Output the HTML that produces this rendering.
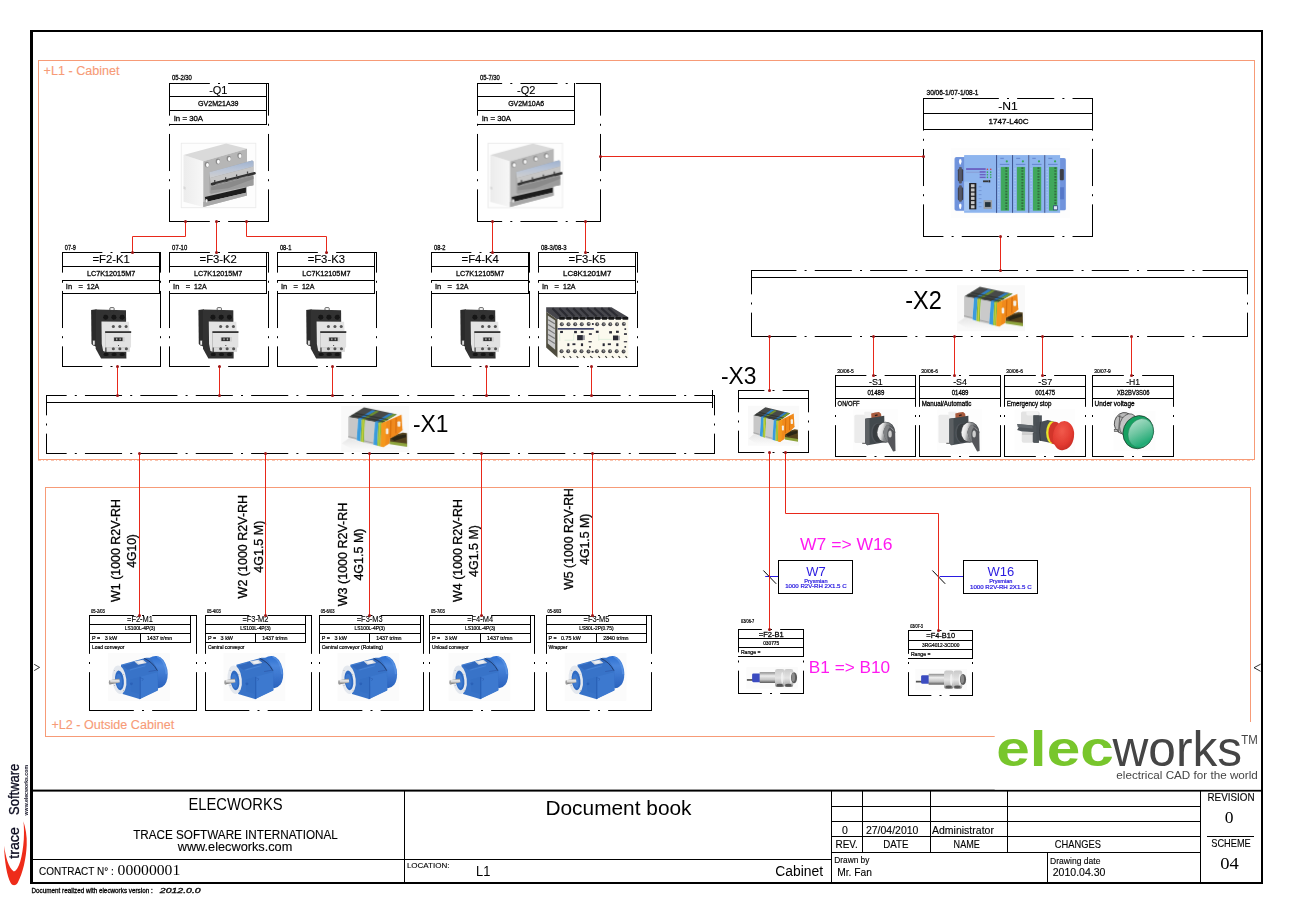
<!DOCTYPE html>
<html><head><meta charset="utf-8"><title>elecworks - Document book</title>
<style>
html,body{margin:0;padding:0;background:#fff;}
body{width:1293px;height:913px;overflow:hidden;font-family:"Liberation Sans",sans-serif;}
svg{display:block;}
text{white-space:pre;}
</style></head><body>
<svg width="1293" height="913" viewBox="0 0 1293 913">
<rect x="0" y="0" width="1293" height="913" fill="#fff"/>
<rect x="38.5" y="60.5" width="1216" height="399" fill="none" stroke="#f79b77" stroke-width="1"/>
<line x1="38" y1="460.6" x2="1255" y2="460.6" stroke="#f79b77" stroke-width="0.8" stroke-dasharray="3,2,1,2,2,3" opacity="0.8"/>
<rect x="45.5" y="487.5" width="1205" height="249" fill="none" stroke="#f79b77" stroke-width="1"/>
<text x="43.6" y="74.7" font-family="Liberation Sans, sans-serif" font-size="12" fill="#f79b77" textLength="76.0" lengthAdjust="spacingAndGlyphs" stroke="#f79b77" stroke-width="0.12" >+L1 - Cabinet</text>
<text x="51.5" y="729.0" font-family="Liberation Sans, sans-serif" font-size="12" fill="#f79b77" textLength="122.7" lengthAdjust="spacingAndGlyphs" stroke="#f79b77" stroke-width="0.12" >+L2 - Outside Cabinet</text>
<defs>
<linearGradient id="gBlueBar" x1="0" y1="0" x2="0" y2="1"><stop offset="0" stop-color="#9fb2cf"/><stop offset="0.5" stop-color="#b9c4d6"/><stop offset="1" stop-color="#cfcfcf"/></linearGradient>
<linearGradient id="gLeftFace" x1="0" y1="0" x2="1" y2="0"><stop offset="0" stop-color="#ececec"/><stop offset="1" stop-color="#f7f7f7"/></linearGradient>
<linearGradient id="gShadow" x1="0" y1="0" x2="0" y2="1"><stop offset="0" stop-color="#e6e6e6"/><stop offset="1" stop-color="#fbfbfb"/></linearGradient>
<linearGradient id="gMetal" x1="0" y1="0" x2="0" y2="1"><stop offset="0" stop-color="#8e8e8e"/><stop offset="0.35" stop-color="#ededed"/><stop offset="0.7" stop-color="#c4c4c4"/><stop offset="1" stop-color="#555"/></linearGradient>
<linearGradient id="gNut" x1="0" y1="0" x2="0" y2="1"><stop offset="0" stop-color="#c9c9c9"/><stop offset="0.5" stop-color="#e4e4e4"/><stop offset="0.85" stop-color="#b5b5b5"/><stop offset="1" stop-color="#6a6a6a"/></linearGradient>
<linearGradient id="gShaft" x1="0" y1="0" x2="0" y2="1"><stop offset="0" stop-color="#777"/><stop offset="0.4" stop-color="#f2f2f2"/><stop offset="1" stop-color="#666"/></linearGradient>
<linearGradient id="gKnob" x1="0" y1="0" x2="1" y2="0"><stop offset="0" stop-color="#6d6d6d"/><stop offset="0.3" stop-color="#fafafa"/><stop offset="0.6" stop-color="#bdbdbd"/><stop offset="1" stop-color="#777"/></linearGradient>
<radialGradient id="gRed" cx="0.4" cy="0.35" r="0.8"><stop offset="0" stop-color="#f15a4c"/><stop offset="0.6" stop-color="#e23a30"/><stop offset="1" stop-color="#b9241f"/></radialGradient>
<linearGradient id="gGreenFace" x1="0" y1="0" x2="1" y2="1"><stop offset="0" stop-color="#bfe6d4"/><stop offset="0.45" stop-color="#6cc5a0"/><stop offset="0.8" stop-color="#1faa74"/><stop offset="1" stop-color="#8fd6ba"/></linearGradient>
<linearGradient id="gFan" x1="0" y1="0" x2="0" y2="1"><stop offset="0" stop-color="#2e6fd0"/><stop offset="0.3" stop-color="#4a86dc"/><stop offset="1" stop-color="#2a62bd"/></linearGradient>
<filter id="blur1" x="-10%" y="-10%" width="120%" height="120%"><feGaussianBlur stdDeviation="0.35"/></filter>
<filter id="blur2" x="-10%" y="-10%" width="120%" height="120%"><feGaussianBlur stdDeviation="0.5"/></filter>

<!-- ============ breaker (zoom coords 9.61x, origin 170,130) -->
<g id="brk">
 <rect x="108" y="127" width="717" height="620" fill="#fdfdfd" stroke="#eaeaea" stroke-width="8"/>
 <polygon points="130,240 320,300 320,740 130,690" fill="url(#gLeftFace)"/>
 <polygon points="130,240 540,130 740,180 320,300" fill="#dadada"/>
 <polygon points="320,300 740,180 740,630 320,740" fill="#b6b6b6"/>
 <ellipse cx="355" cy="332" rx="21" ry="27" fill="#8a8a8a"/><ellipse cx="360" cy="336" rx="14" ry="19" fill="#fafafa"/>
 <ellipse cx="460" cy="302" rx="21" ry="27" fill="#8a8a8a"/><ellipse cx="465" cy="306" rx="14" ry="19" fill="#fafafa"/>
 <ellipse cx="565" cy="274" rx="21" ry="27" fill="#8a8a8a"/><ellipse cx="570" cy="278" rx="14" ry="19" fill="#fafafa"/>
 <ellipse cx="668" cy="246" rx="21" ry="27" fill="#8a8a8a"/><ellipse cx="673" cy="250" rx="14" ry="19" fill="#fafafa"/>
 <polygon points="378,405 790,292 802,300 802,530 392,612 380,600" fill="#a2a2a2"/>
 <polygon points="378,405 790,292 802,305 802,350 385,462" fill="url(#gBlueBar)"/>
 <polygon points="385,462 802,350 802,410 390,515" fill="#c6c6c6"/>
 <polygon points="390,555 802,450 802,530 392,612" fill="#9c9c9c"/>
 <path d="M405,520 L812,416" stroke="#333" stroke-width="26" stroke-linecap="round"/><polygon points="395,545 802,440 802,470 560,560 395,580" fill="#8a8a8a"/>
 <path d="M440,523 L530,500 M560,492 L640,472 M665,466 L745,446" stroke="#8d8d8d" stroke-width="9" stroke-linecap="round"/>
 <path d="M430,480 L430,500 M535,455 L535,475 M640,428 L640,448 M745,400 L745,420" stroke="#444" stroke-width="12"/>
 <polygon points="335,645 730,552 730,602 345,692" fill="#1e1e1e"/>
 <polygon points="320,690 345,692 730,602 740,600 740,630 320,740" fill="#a8a8a8"/>
 <ellipse cx="352" cy="680" rx="10" ry="16" fill="#eee"/>
 <polygon points="130,540 150,548 150,575 130,568" fill="#d8d8d8"/>
</g>

<!-- ============ contactor (zoom coords 13.05x, origin 80,295) -->
<g id="ctr">
 <polygon points="145,195 215,185 215,680 165,650 150,640" fill="#2b2b2b"/>
 <polygon points="205,190 600,200 605,830 275,830 205,700" fill="#303030"/>
 <rect x="390" y="165" width="55" height="40" rx="10" fill="none" stroke="#333" stroke-width="10"/>
 <circle cx="335" cy="290" r="32" fill="#141414"/><circle cx="442" cy="290" r="32" fill="#141414"/><circle cx="550" cy="290" r="32" fill="#141414"/>
 <ellipse cx="340" cy="775" rx="34" ry="22" fill="#161616"/><ellipse cx="445" cy="775" rx="34" ry="22" fill="#161616"/><ellipse cx="550" cy="775" rx="34" ry="22" fill="#161616"/>
 <polygon points="280,345 640,350 645,475 330,475 330,742 302,732 284,640" fill="#e4e4e4"/>
 <rect x="328" y="470" width="338" height="215" fill="#e2e2e2"/>
 <rect x="345" y="680" width="305" height="62" fill="#d8d8d8"/>
 <rect x="328" y="473" width="340" height="22" fill="#2a2a2a"/>
 <circle cx="435" cy="410" r="20" fill="#555"/><circle cx="520" cy="410" r="20" fill="#555"/><circle cx="602" cy="410" r="20" fill="#555"/>
 <circle cx="435" cy="702" r="20" fill="#555"/><circle cx="520" cy="702" r="20" fill="#555"/><circle cx="605" cy="702" r="20" fill="#555"/>
 <rect x="432" y="548" width="150" height="60" fill="#d0d0d0"/>
 <rect x="445" y="555" width="110" height="46" fill="#2e2e2e"/>
 <rect x="470" y="565" width="18" height="25" fill="#aaa"/><rect x="515" y="565" width="18" height="25" fill="#aaa"/>
 <circle cx="503" cy="658" r="7" fill="#222"/>
 <rect x="165" y="590" width="32" height="65" rx="8" fill="#fff" stroke="#2b2b2b" stroke-width="10"/>
</g>

<!-- ============ mini contactor K5 (zoom coords 12.17x, origin 540,295) -->
<g id="k5">
 <polygon points="75,150 870,150 1075,270 1075,300 215,300 75,205" fill="#47474d"/>
 <polygon points="75,205 215,300 215,765 75,640" fill="#4d4b3c"/>
 <polygon points="95,250 185,310 185,665 95,590" fill="#c9c9c9"/>
 <path d="M100,300 L180,350 M100,360 L180,410 M100,420 L180,470 M100,480 L180,530 M100,540 L180,590" stroke="#777" stroke-width="14"/>
 <rect x="215" y="292" width="860" height="475" fill="#fbf9ee"/>
 <path d="M235,285 L300,285 M320,285 L380,285 M400,285 L465,285 M485,285 L550,285 M570,285 L650,285 M670,285 L735,285 M755,285 L815,285 M835,285 L900,285 M920,285 L985,285 M1005,285 L1070,285" stroke="#141418" stroke-width="34"/>
 <path d="M150,160 L250,262 M235,160 L335,262 M320,160 L420,262 M405,160 L505,262 M490,160 L590,262 M575,160 L690,262 M660,160 L775,262 M745,160 L860,262 M830,160 L945,262" stroke="#2b2b30" stroke-width="26"/>
 <g fill="#4a4a4e">
  <circle cx="265" cy="357" r="24"/><circle cx="347" cy="357" r="24"/><circle cx="428" cy="357" r="24"/><circle cx="508" cy="357" r="24"/><circle cx="592" cy="352" r="24"/>
  <circle cx="695" cy="357" r="24"/><circle cx="775" cy="357" r="24"/><circle cx="855" cy="357" r="24"/><circle cx="937" cy="357" r="24"/><circle cx="1020" cy="352" r="24"/>
  <circle cx="262" cy="685" r="24"/><circle cx="343" cy="685" r="24"/><circle cx="425" cy="685" r="24"/><circle cx="505" cy="685" r="24"/><circle cx="590" cy="688" r="24"/>
  <circle cx="692" cy="685" r="24"/><circle cx="772" cy="685" r="24"/><circle cx="852" cy="685" r="24"/><circle cx="933" cy="685" r="24"/><circle cx="1017" cy="688" r="24"/>
 </g>
 <g fill="#bdbdbd">
  <circle cx="270" cy="352" r="9"/><circle cx="352" cy="352" r="9"/><circle cx="433" cy="352" r="9"/><circle cx="513" cy="352" r="9"/><circle cx="597" cy="347" r="9"/>
  <circle cx="700" cy="352" r="9"/><circle cx="780" cy="352" r="9"/><circle cx="860" cy="352" r="9"/><circle cx="942" cy="352" r="9"/><circle cx="1025" cy="347" r="9"/>
  <circle cx="267" cy="680" r="9"/><circle cx="348" cy="680" r="9"/><circle cx="430" cy="680" r="9"/><circle cx="510" cy="680" r="9"/><circle cx="595" cy="683" r="9"/>
  <circle cx="697" cy="680" r="9"/><circle cx="777" cy="680" r="9"/><circle cx="857" cy="680" r="9"/><circle cx="938" cy="680" r="9"/><circle cx="1022" cy="683" r="9"/>
 </g>
 <rect x="215" y="402" width="440" height="20" fill="#3a3f66"/>
 <g fill="#2a2a36">
  <rect x="245" y="437" width="34" height="26"/><rect x="415" y="437" width="34" height="28"/><rect x="495" y="437" width="34" height="26"/><rect x="680" y="435" width="34" height="26"/><rect x="842" y="440" width="34" height="28"/><rect x="925" y="435" width="34" height="26"/>
  <rect x="595" y="465" width="36" height="20"/><rect x="1022" y="465" width="36" height="20"/><rect x="632" y="342" width="22" height="22"/><rect x="1028" y="405" width="20" height="20"/>
  <rect x="452" y="488" width="70" height="62"/><rect x="888" y="493" width="62" height="58"/>
  <rect x="333" y="588" width="24" height="34"/><rect x="395" y="588" width="36" height="22"/><rect x="498" y="588" width="26" height="34"/><rect x="762" y="588" width="26" height="34"/><rect x="825" y="588" width="38" height="22"/><rect x="928" y="588" width="26" height="34"/>
  <rect x="590" y="562" width="40" height="14"/><rect x="1020" y="562" width="40" height="14"/><rect x="598" y="622" width="20" height="20"/><rect x="1028" y="622" width="20" height="20"/><rect x="628" y="680" width="24" height="22"/>
 </g>
 <rect x="522" y="490" width="24" height="58" fill="#9a9aa0"/><rect x="950" y="495" width="20" height="55" fill="#9a9aa0"/>
 <path d="M240,470 L240,560 M410,470 L410,550 L300,550 M715,540 L880,540 M715,480 L715,560" stroke="#bfe3c9" stroke-width="5" fill="none"/>
 <path d="M280,745 L300,765 M360,745 L380,765 M445,745 L465,765 M525,745 L545,765 M610,745 L640,765 M710,745 L730,765 M795,745 L815,765 M875,745 L895,765 M955,745 L975,765 M1040,745 L1060,765" stroke="#333" stroke-width="14"/>
</g>

<!-- ============ terminal block (zoom coords 16.16x, origin 335,400) -->
<g id="trm">
 <rect x="100" y="95" width="1090" height="735" fill="#f9f9f9"/>
 <polygon points="110,700 220,620 760,760 1150,770 1150,810 300,810" fill="url(#gShadow)"/>
 <polygon points="885,615 1000,555 1095,528 1162,535 1166,740 885,700" fill="#54431f"/>
 <polygon points="905,625 1010,575 1150,555 1150,600 960,660" fill="#2b2616"/>
 <polygon points="885,668 1166,705 1166,758 885,715" fill="#8ea43c"/>
 <polygon points="215,275 470,120 1000,232 752,378" fill="#474a48"/>
 <polygon points="375,300 600,165 660,175 430,312" fill="#2f7fc6"/>
 <polygon points="430,312 660,175 715,185 485,322" fill="#6f8f2f"/>
 <polygon points="645,355 880,215 940,225 700,367" fill="#2f7fc6"/>
 <polygon points="700,367 940,225 1000,232 752,378" fill="#6f9a35"/>
 <path d="M330,215 L860,320 M270,248 L800,350" stroke="#2a2c2b" stroke-width="22" opacity="0.7"/>
 <polygon points="215,275 375,300 350,645 215,612" fill="#c7c7c7"/>
 <polygon points="375,300 432,310 412,668 350,650" fill="#3a9bdc"/>
 <polygon points="432,310 487,322 470,684 412,668" fill="#86b73c"/>
 <polygon points="448,312 470,318 452,682 430,674" fill="#d9d436" opacity="0.8"/>
 <polygon points="487,325 647,355 622,722 470,688" fill="#cacaca"/>
 <polygon points="647,355 702,367 682,738 620,722" fill="#3a9bdc"/>
 <polygon points="702,367 752,378 737,748 682,738" fill="#86b73c"/>
 <polygon points="716,369 738,374 720,745 700,741" fill="#d9d436" opacity="0.7"/>
 <polygon points="752,378 1075,235 1090,470 1098,482 1000,562 892,622 878,705 782,762 737,748" fill="#f08a1c"/>
 <polygon points="752,378 830,345 815,735 782,762 737,748" fill="#f5981f"/>
 <path d="M905,330 L895,600 M990,290 L985,540" stroke="#d9700f" stroke-width="22"/>
 <rect x="822" y="460" width="42" height="90" rx="14" fill="#f4efe6"/>
 <rect x="1010" y="345" width="48" height="85" rx="14" fill="#f4efe6"/>
 <path d="M215,590 L350,622 M470,660 L620,695" stroke="#9a9a9a" stroke-width="14"/>
</g>
</defs>
<defs>
<!-- ============ selector switch (zoom 17.23x, origin 850,405) -->
<linearGradient id="gKnob2" x1="0" y1="0" x2="1" y2="0.25"><stop offset="0" stop-color="#55595c"/><stop offset="0.18" stop-color="#f4f4f4"/><stop offset="0.36" stop-color="#e0e0e0"/><stop offset="0.55" stop-color="#8d8f91"/><stop offset="1" stop-color="#4c4f52"/></linearGradient>
<g id="sel">
 <rect x="55" y="70" width="770" height="770" fill="#fdfdfd"/>
 <rect x="245" y="118" width="150" height="120" rx="14" fill="#f0f0f0"/>
 <rect x="75" y="168" width="185" height="485" rx="26" fill="#ebebeb"/>
 <polygon points="365,148 430,128 500,120 535,150 542,205 370,242" fill="#a85a3c"/>
 <rect x="428" y="166" width="48" height="22" fill="#2e211c" transform="rotate(-18 452 177)"/>
 <polygon points="262,236 590,186 598,640 300,692 262,662" fill="#43484d"/>
 <polygon points="262,236 335,225 338,684 300,692 262,662" fill="#5b6064"/>
 <ellipse cx="462" cy="482" rx="98" ry="168" fill="#50555a"/>
 <ellipse cx="478" cy="482" rx="88" ry="160" fill="#393d41"/>
 <ellipse cx="612" cy="470" rx="166" ry="182" fill="#3d4043"/>
 <ellipse cx="618" cy="468" rx="150" ry="170" fill="url(#gKnob2)"/>
 <path d="M572,470 Q600,350 660,345 Q760,370 778,450 L784,792 L742,802 L655,640 Q590,570 572,470 Z" fill="#54575a"/>
 <path d="M572,470 Q600,350 660,345 L690,380 Q640,420 640,520 L655,640 Q590,570 572,470 Z" fill="#808284"/>
 <ellipse cx="690" cy="500" rx="30" ry="62" fill="#cfcfcf"/>
 <path d="M700,385 L752,440" stroke="#9a9c9e" stroke-width="16"/>
 <rect x="210" y="652" width="50" height="14" fill="#333"/>
</g>

<!-- ============ emergency stop (zoom 14.05x, origin 1005,395) -->
<g id="est">
 <rect x="135" y="200" width="850" height="620" fill="#fdfdfd"/>
 <rect x="225" y="232" width="262" height="200" rx="25" fill="#e3e3e3"/><rect x="300" y="228" width="170" height="60" rx="20" fill="#f2f2f2"/>
 <rect x="235" y="520" width="200" height="152" rx="25" fill="#e4e4e4"/><rect x="240" y="522" width="160" height="40" fill="#cfcfcf"/>
 <rect x="400" y="286" width="118" height="130" fill="#4f555a"/><rect x="398" y="286" width="78" height="386" fill="#4b5156"/><polygon points="170,408 450,432 450,525 240,512 170,492 195,450" fill="#4f555a"/><polygon points="390,530 480,555 472,672 390,660" fill="#4f555a"/><polygon points="440,392 600,352 705,378 705,692 600,665 440,632" fill="#4a5055"/>
 <polygon points="170,408 380,430 390,470 180,452" fill="#62686d"/>
 <path d="M500,378 Q470,510 500,645" stroke="#33383c" stroke-width="12" fill="none"/>
 <ellipse cx="660" cy="528" rx="82" ry="158" fill="#e9e32a"/>
 <ellipse cx="705" cy="535" rx="95" ry="160" fill="#d2352b"/>
 <ellipse cx="822" cy="572" rx="148" ry="206" fill="url(#gRed)" transform="rotate(8 822 572)"/>
</g>

<!-- ============ pilot lamp (zoom 14.05x, origin 1090,395) -->
<g id="lmp">
 <rect x="330" y="225" width="590" height="560" fill="#fdfdfd"/>
 <ellipse cx="475" cy="395" rx="132" ry="150" fill="#b9b9b9" stroke="#2a2a2a" stroke-width="10" transform="rotate(15 475 395)"/>
 <path d="M395,300 L520,330 M420,280 L400,520" stroke="#3a3a3a" stroke-width="9" fill="none"/>
 <ellipse cx="540" cy="420" rx="120" ry="160" fill="#c4c4c4" stroke="#2a2a2a" stroke-width="8" transform="rotate(18 540 420)"/>
 <rect x="340" y="488" width="45" height="28" fill="#bbb" stroke="#333" stroke-width="7"/>
 <ellipse cx="678" cy="522" rx="212" ry="236" fill="#16a061" stroke="#1d2d25" stroke-width="9" transform="rotate(22 678 522)"/>
 <ellipse cx="712" cy="535" rx="172" ry="208" fill="url(#gGreenFace)" stroke="#1c7e55" stroke-width="6" transform="rotate(22 712 535)"/>
</g>

<!-- ============ PLC (zoom 9.946x, origin 945,140) -->
<g id="plc">
 <rect x="60" y="80" width="1180" height="690" fill="#fdfdfd"/>
 <rect x="95" y="170" width="120" height="535" rx="18" fill="#6f93dc"/>
 <rect x="1130" y="180" width="72" height="520" rx="16" fill="#6f93dc"/>
 <rect x="190" y="150" width="322" height="575" rx="6" fill="#8eb5ee"/>
 <rect x="190" y="415" width="60" height="290" fill="#a6c6f2"/>
 <g fill="#8eb5ee">
  <rect x="513" y="150" width="155" height="575"/><rect x="673" y="150" width="155" height="575"/><rect x="835" y="150" width="155" height="575"/><rect x="995" y="150" width="150" height="575"/>
 </g>
 <path d="M513,150 V725 M672,150 V725 M833,150 V725 M992,150 V725" stroke="#2b4380" stroke-width="9"/><g fill="#41a85c">
  <rect x="555" y="268" width="82" height="435"/><rect x="715" y="268" width="82" height="435"/><rect x="875" y="268" width="82" height="435"/><rect x="1035" y="268" width="82" height="435"/>
 </g>
 <g stroke="#2f6b3e" stroke-width="20" stroke-dasharray="16,13">
  <path d="M610,272 V700 M770,272 V700 M930,272 V700 M1098,272 V700"/>
 </g>
 <g stroke="#b5d0f5" stroke-width="14" stroke-dasharray="6,23">
  <path d="M535,285 V700 M697,285 V700 M857,285 V700 M1017,285 V700"/>
 </g>
 <g fill="#2fa84f"><circle cx="615" cy="212" r="11"/><circle cx="775" cy="212" r="11"/><circle cx="935" cy="212" r="11"/><circle cx="1095" cy="212" r="11"/></g>
 <g fill="#5f7fc8"><rect x="545" y="238" width="95" height="9"/><rect x="705" y="238" width="95" height="9"/><rect x="865" y="238" width="95" height="9"/><rect x="1025" y="238" width="95" height="9"/><rect x="550" y="178" width="35" height="9"/><rect x="708" y="178" width="40" height="9"/><rect x="868" y="178" width="35" height="9"/><rect x="1028" y="178" width="40" height="9"/></g>
 <ellipse cx="152" cy="212" rx="13" ry="22" fill="#fff"/><rect x="145" y="215" width="14" height="28" fill="#fff"/>
 <ellipse cx="152" cy="655" rx="13" ry="22" fill="#fff"/><rect x="145" y="658" width="14" height="28" fill="#fff"/>
 <rect x="128" y="290" width="52" height="120" rx="12" fill="#3b3d46"/><rect x="138" y="268" width="30" height="165" rx="10" fill="#55596a"/>
 <rect x="128" y="470" width="52" height="130" rx="12" fill="#3b3d46"/><rect x="138" y="450" width="30" height="165" rx="10" fill="#55596a"/>
 <rect x="1142" y="290" width="40" height="110" rx="10" fill="#3b3d46"/><rect x="1145" y="470" width="38" height="120" fill="#5577c8"/>
 <rect x="1080" y="655" width="40" height="40" fill="#dfe8f8" stroke="#27407c" stroke-width="7"/>
 <rect x="240" y="428" width="72" height="262" fill="#1e1e22"/>
 <g fill="#c8c8c8"><rect x="258" y="440" width="36" height="30"/><rect x="258" y="482" width="36" height="30"/><rect x="258" y="524" width="36" height="30"/><rect x="258" y="566" width="36" height="30"/><rect x="258" y="608" width="36" height="30"/><rect x="258" y="650" width="36" height="30"/></g>
 <rect x="384" y="598" width="84" height="88" fill="#9aa0a8"/><rect x="398" y="618" width="56" height="48" fill="#24303a"/>
 <rect x="210" y="280" width="195" height="18" fill="#6a5fc0"/><rect x="210" y="315" width="150" height="12" fill="#8aa0d8"/>
 <rect x="345" y="310" width="60" height="16" fill="#6a5fc0"/><rect x="345" y="338" width="60" height="14" fill="#6a5fc0"/><rect x="345" y="365" width="60" height="14" fill="#6a5fc0"/>
 <circle cx="422" cy="292" r="8" fill="#d33"/><circle cx="455" cy="292" r="8" fill="#d33"/>
 <g fill="#2fa84f"><circle cx="422" cy="320" r="8"/><circle cx="455" cy="320" r="8"/><circle cx="422" cy="346" r="8"/><circle cx="455" cy="346" r="8"/><circle cx="422" cy="372" r="8"/><circle cx="455" cy="372" r="8"/></g>
 <rect x="378" y="402" width="50" height="18" fill="#333"/><rect x="432" y="400" width="18" height="22" fill="#222"/>
 <g fill="#6d8fd0"><rect x="335" y="462" width="28" height="8"/><rect x="335" y="500" width="28" height="8"/><rect x="335" y="540" width="28" height="8"/><rect x="335" y="580" width="28" height="8"/><rect x="335" y="620" width="28" height="8"/><rect x="335" y="660" width="28" height="8"/></g>
</g>

<!-- ============ motor (zoom 15.21x, origin 100,648) -->
<g id="mot">
 <rect x="122" y="78" width="940" height="725" fill="#fbfbfb"/>
 <path d="M760,150 Q800,118 860,122 Q985,140 1025,330 Q1045,480 985,560 Q940,615 880,610 L800,480 Z" fill="url(#gFan)"/>
 <path d="M870,130 Q1000,190 1010,400" stroke="#5c95e6" stroke-width="26" fill="none" opacity="0.7"/>
 <polygon points="318,255 700,150 770,150 880,330 880,640 600,775 345,700" fill="#3873c8"/>
 <path d="M330,262 L690,165 L770,215 L420,330 Z" fill="#3169bd"/>
 <path d="M672,158 Q800,210 872,345" stroke="#1d3564" stroke-width="13" fill="none"/>
 <path d="M740,358 L860,338" stroke="#2a56a6" stroke-width="10"/>
 <path d="M330,262 L480,225 M455,335 L690,270" stroke="#5f98e8" stroke-width="10" opacity="0.6"/>
 <polygon points="520,200 655,178 712,228 580,256" fill="#d5dae2"/>
 <polygon points="560,205 640,192 672,225 595,240" fill="#eef0f4"/>
 <polygon points="598,440 872,368 880,648 600,780" fill="#3d79cf"/>
 <polygon points="598,440 620,436 622,770 600,780" fill="#2c62b8"/>
 <polygon points="460,480 598,440 600,700 470,660" fill="#3570c5"/>
 <circle cx="478" cy="545" r="22" fill="#2c62b8"/>
 <path d="M620,455 L660,470 L640,500" stroke="#2a5cae" stroke-width="8" fill="none"/>
 <ellipse cx="292" cy="482" rx="108" ry="218" fill="#e4e8ee" transform="rotate(-6 292 482)"/>
 <ellipse cx="296" cy="492" rx="66" ry="150" fill="#2e6ac2" transform="rotate(-6 296 492)"/>
 <ellipse cx="290" cy="500" rx="46" ry="108" fill="#3d79cf" transform="rotate(-6 290 500)"/>
 <polygon points="140,492 295,462 302,525 148,555" fill="url(#gShaft)"/>
 <ellipse cx="146" cy="524" rx="12" ry="32" fill="#9a9a9a"/>
 <g fill="#777"><circle cx="222" cy="340" r="6"/><circle cx="355" cy="405" r="6"/><circle cx="360" cy="650" r="6"/><circle cx="222" cy="570" r="6"/></g>
</g>

<!-- ============ proximity sensor (zoom 17.24x, origin 735,655) -->
<g id="sns">
 <rect x="195" y="210" width="890" height="370" fill="#fbfbfb"/>
 <rect x="205" y="415" width="110" height="30" fill="#555"/>
 <rect x="295" y="320" width="145" height="148" rx="22" fill="#3a4cc0"/>
 <rect x="425" y="295" width="280" height="187" fill="url(#gMetal)"/>
 <rect x="690" y="240" width="165" height="312" rx="40" fill="url(#gNut)"/>
 <rect x="850" y="240" width="155" height="312" rx="40" fill="url(#gNut)"/>
 <ellipse cx="815" cy="395" rx="22" ry="100" fill="#f4f4f4" opacity="0.8"/>
 <ellipse cx="965" cy="395" rx="22" ry="100" fill="#f4f4f4" opacity="0.8"/>
 <ellipse cx="1018" cy="392" rx="52" ry="95" fill="#5a5a5a"/>
 <ellipse cx="1005" cy="385" rx="30" ry="75" fill="#8a8a8a"/>
 <ellipse cx="770" cy="520" rx="55" ry="25" fill="#555"/><ellipse cx="920" cy="520" rx="55" ry="25" fill="#555"/>
</g>
</defs>
<g filter="url(#blur1)">
<use href="#brk" transform="translate(170,130) scale(0.10406)"/>
<use href="#brk" transform="translate(476.7,130) scale(0.10406)"/>
<use href="#ctr" transform="translate(80,295) scale(0.07663)"/>
<use href="#ctr" transform="translate(187.3,295) scale(0.07663)"/>
<use href="#ctr" transform="translate(295.1,295) scale(0.07663)"/>
<use href="#ctr" transform="translate(449.2,295) scale(0.07663)"/>
<use href="#k5" transform="translate(540,295) scale(0.08217)"/>
<use href="#trm" transform="translate(335,400) scale(0.06188)"/>
<use href="#trm" transform="translate(950.8,279.4) scale(0.06188)"/>
<use href="#trm" transform="translate(743.4,400.65) scale(0.04684,0.05427)"/>
<use href="#sel" transform="translate(850,405) scale(0.05804)"/>
<use href="#sel" transform="translate(934.1,405) scale(0.05804)"/>
<use href="#est" transform="translate(1005,395) scale(0.07117)"/>
<use href="#lmp" transform="translate(1090,395) scale(0.07117)"/>
<use href="#plc" transform="translate(945,140) scale(0.10054)"/>
<use href="#mot" transform="translate(100,648) scale(0.06575)"/>
<use href="#mot" transform="translate(215.5,648) scale(0.06575)"/>
<use href="#mot" transform="translate(329.4,648) scale(0.06575)"/>
<use href="#mot" transform="translate(440.5,648) scale(0.06575)"/>
<use href="#mot" transform="translate(556.6,648) scale(0.06575)"/>
<use href="#sns" transform="translate(735,655) scale(0.058)"/>
<use href="#sns" transform="translate(904.0,656.7) scale(0.058)"/>
</g>

<line x1="169.00" y1="96.50" x2="267.00" y2="96.50" stroke="#000" stroke-width="1" />
<line x1="169.00" y1="110.50" x2="267.00" y2="110.50" stroke="#000" stroke-width="1" />
<line x1="169.00" y1="124.50" x2="267.00" y2="124.50" stroke="#000" stroke-width="1" />
<line x1="266.50" y1="83.00" x2="266.50" y2="125.00" stroke="#000" stroke-width="1" />
<line x1="169.00" y1="83.50" x2="209.85" y2="83.50" stroke="#000" stroke-width="1" />
<line x1="218.00" y1="83.50" x2="220.00" y2="83.50" stroke="#000" stroke-width="1" />
<line x1="228.15" y1="83.50" x2="269.00" y2="83.50" stroke="#000" stroke-width="1" />
<line x1="169.00" y1="221.50" x2="209.85" y2="221.50" stroke="#000" stroke-width="1" />
<line x1="218.00" y1="221.50" x2="220.00" y2="221.50" stroke="#000" stroke-width="1" />
<line x1="228.15" y1="221.50" x2="269.00" y2="221.50" stroke="#000" stroke-width="1" />
<line x1="169.50" y1="83.00" x2="169.50" y2="115.65" stroke="#000" stroke-width="1" />
<line x1="169.50" y1="123.80" x2="169.50" y2="125.80" stroke="#000" stroke-width="1" />
<line x1="169.50" y1="133.95" x2="169.50" y2="171.05" stroke="#000" stroke-width="1" />
<line x1="169.50" y1="179.20" x2="169.50" y2="181.20" stroke="#000" stroke-width="1" />
<line x1="169.50" y1="189.35" x2="169.50" y2="222.00" stroke="#000" stroke-width="1" />
<line x1="268.50" y1="83.00" x2="268.50" y2="115.65" stroke="#000" stroke-width="1" />
<line x1="268.50" y1="123.80" x2="268.50" y2="125.80" stroke="#000" stroke-width="1" />
<line x1="268.50" y1="133.95" x2="268.50" y2="171.05" stroke="#000" stroke-width="1" />
<line x1="268.50" y1="179.20" x2="268.50" y2="181.20" stroke="#000" stroke-width="1" />
<line x1="268.50" y1="189.35" x2="268.50" y2="222.00" stroke="#000" stroke-width="1" />
<text x="218.3" y="93.9" font-family="Liberation Sans, sans-serif" font-size="11" fill="#000" text-anchor="middle" textLength="18.3" lengthAdjust="spacingAndGlyphs" stroke="#000" stroke-width="0.12" >-Q1</text>
<text x="218.3" y="105.9" font-family="Liberation Sans, sans-serif" font-size="7.5" fill="#000" text-anchor="middle" textLength="40.5" lengthAdjust="spacingAndGlyphs" stroke="#000" stroke-width="0.28" >GV2M21A39</text>
<text x="173.7" y="120.8" font-family="Liberation Sans, sans-serif" font-size="7.5" fill="#000" textLength="29.4" lengthAdjust="spacingAndGlyphs" stroke="#000" stroke-width="0.28" >In = 30A</text>
<text x="171.9" y="79.6" font-family="Liberation Sans, sans-serif" font-size="6.8" fill="#000" textLength="20.0" lengthAdjust="spacingAndGlyphs" stroke="#000" stroke-width="0.28" >05-2/30</text>
<line x1="477.00" y1="96.50" x2="575.00" y2="96.50" stroke="#000" stroke-width="1" />
<line x1="477.00" y1="110.50" x2="575.00" y2="110.50" stroke="#000" stroke-width="1" />
<line x1="477.00" y1="124.50" x2="575.00" y2="124.50" stroke="#000" stroke-width="1" />
<line x1="574.50" y1="83.00" x2="574.50" y2="125.00" stroke="#000" stroke-width="1" />
<line x1="477.00" y1="83.50" x2="502.15" y2="83.50" stroke="#000" stroke-width="1" />
<line x1="510.30" y1="83.50" x2="512.30" y2="83.50" stroke="#000" stroke-width="1" />
<line x1="520.45" y1="83.50" x2="557.55" y2="83.50" stroke="#000" stroke-width="1" />
<line x1="565.70" y1="83.50" x2="567.70" y2="83.50" stroke="#000" stroke-width="1" />
<line x1="575.85" y1="83.50" x2="601.00" y2="83.50" stroke="#000" stroke-width="1" />
<line x1="477.00" y1="221.50" x2="502.15" y2="221.50" stroke="#000" stroke-width="1" />
<line x1="510.30" y1="221.50" x2="512.30" y2="221.50" stroke="#000" stroke-width="1" />
<line x1="520.45" y1="221.50" x2="557.55" y2="221.50" stroke="#000" stroke-width="1" />
<line x1="565.70" y1="221.50" x2="567.70" y2="221.50" stroke="#000" stroke-width="1" />
<line x1="575.85" y1="221.50" x2="601.00" y2="221.50" stroke="#000" stroke-width="1" />
<line x1="477.50" y1="83.00" x2="477.50" y2="115.65" stroke="#000" stroke-width="1" />
<line x1="477.50" y1="123.80" x2="477.50" y2="125.80" stroke="#000" stroke-width="1" />
<line x1="477.50" y1="133.95" x2="477.50" y2="171.05" stroke="#000" stroke-width="1" />
<line x1="477.50" y1="179.20" x2="477.50" y2="181.20" stroke="#000" stroke-width="1" />
<line x1="477.50" y1="189.35" x2="477.50" y2="222.00" stroke="#000" stroke-width="1" />
<line x1="600.50" y1="83.00" x2="600.50" y2="115.65" stroke="#000" stroke-width="1" />
<line x1="600.50" y1="123.80" x2="600.50" y2="125.80" stroke="#000" stroke-width="1" />
<line x1="600.50" y1="133.95" x2="600.50" y2="171.05" stroke="#000" stroke-width="1" />
<line x1="600.50" y1="179.20" x2="600.50" y2="181.20" stroke="#000" stroke-width="1" />
<line x1="600.50" y1="189.35" x2="600.50" y2="222.00" stroke="#000" stroke-width="1" />
<text x="526.2" y="93.9" font-family="Liberation Sans, sans-serif" font-size="11" fill="#000" text-anchor="middle" textLength="18.3" lengthAdjust="spacingAndGlyphs" stroke="#000" stroke-width="0.12" >-Q2</text>
<text x="526.2" y="105.9" font-family="Liberation Sans, sans-serif" font-size="7.5" fill="#000" text-anchor="middle" textLength="36.0" lengthAdjust="spacingAndGlyphs" stroke="#000" stroke-width="0.28" >GV2M10A6</text>
<text x="481.7" y="120.8" font-family="Liberation Sans, sans-serif" font-size="7.5" fill="#000" textLength="29.4" lengthAdjust="spacingAndGlyphs" stroke="#000" stroke-width="0.28" >In = 30A</text>
<text x="479.9" y="79.6" font-family="Liberation Sans, sans-serif" font-size="6.8" fill="#000" textLength="20.0" lengthAdjust="spacingAndGlyphs" stroke="#000" stroke-width="0.28" >05-7/30</text>
<line x1="62.00" y1="266.50" x2="160.00" y2="266.50" stroke="#000" stroke-width="1" />
<line x1="62.00" y1="280.50" x2="160.00" y2="280.50" stroke="#000" stroke-width="1" />
<line x1="62.00" y1="293.50" x2="160.00" y2="293.50" stroke="#000" stroke-width="1" />
<line x1="159.50" y1="252.00" x2="159.50" y2="294.00" stroke="#000" stroke-width="1" />
<line x1="62.00" y1="252.50" x2="102.35" y2="252.50" stroke="#000" stroke-width="1" />
<line x1="110.50" y1="252.50" x2="112.50" y2="252.50" stroke="#000" stroke-width="1" />
<line x1="120.65" y1="252.50" x2="161.00" y2="252.50" stroke="#000" stroke-width="1" />
<line x1="62.00" y1="366.50" x2="102.35" y2="366.50" stroke="#000" stroke-width="1" />
<line x1="110.50" y1="366.50" x2="112.50" y2="366.50" stroke="#000" stroke-width="1" />
<line x1="120.65" y1="366.50" x2="161.00" y2="366.50" stroke="#000" stroke-width="1" />
<line x1="62.50" y1="252.00" x2="62.50" y2="272.65" stroke="#000" stroke-width="1" />
<line x1="62.50" y1="280.80" x2="62.50" y2="282.80" stroke="#000" stroke-width="1" />
<line x1="62.50" y1="290.95" x2="62.50" y2="328.05" stroke="#000" stroke-width="1" />
<line x1="62.50" y1="336.20" x2="62.50" y2="338.20" stroke="#000" stroke-width="1" />
<line x1="62.50" y1="346.35" x2="62.50" y2="367.00" stroke="#000" stroke-width="1" />
<line x1="160.50" y1="252.00" x2="160.50" y2="272.65" stroke="#000" stroke-width="1" />
<line x1="160.50" y1="280.80" x2="160.50" y2="282.80" stroke="#000" stroke-width="1" />
<line x1="160.50" y1="290.95" x2="160.50" y2="328.05" stroke="#000" stroke-width="1" />
<line x1="160.50" y1="336.20" x2="160.50" y2="338.20" stroke="#000" stroke-width="1" />
<line x1="160.50" y1="346.35" x2="160.50" y2="367.00" stroke="#000" stroke-width="1" />
<text x="111.1" y="262.7" font-family="Liberation Sans, sans-serif" font-size="10.6" fill="#000" text-anchor="middle" textLength="37.3" lengthAdjust="spacingAndGlyphs" stroke="#000" stroke-width="0.12" >=F2-K1</text>
<text x="111.1" y="275.8" font-family="Liberation Sans, sans-serif" font-size="7.3" fill="#000" text-anchor="middle" textLength="48.3" lengthAdjust="spacingAndGlyphs" stroke="#000" stroke-width="0.28" >LC7K12015M7</text>
<text x="65.8" y="289.3" font-family="Liberation Sans, sans-serif" font-size="7.5" fill="#000" stroke="#000" stroke-width="0.28" >In</text>
<text x="78.4" y="289.3" font-family="Liberation Sans, sans-serif" font-size="7.5" fill="#000" stroke="#000" stroke-width="0.28" >=</text>
<text x="86.8" y="289.0" font-family="Liberation Sans, sans-serif" font-size="7.5" fill="#000" textLength="12.5" lengthAdjust="spacingAndGlyphs" stroke="#000" stroke-width="0.28" >12A</text>
<text x="64.8" y="249.7" font-family="Liberation Sans, sans-serif" font-size="6.8" fill="#000" textLength="11.1" lengthAdjust="spacingAndGlyphs" stroke="#000" stroke-width="0.28" >07-9</text>
<line x1="169.00" y1="266.50" x2="267.00" y2="266.50" stroke="#000" stroke-width="1" />
<line x1="169.00" y1="280.50" x2="267.00" y2="280.50" stroke="#000" stroke-width="1" />
<line x1="169.00" y1="293.50" x2="267.00" y2="293.50" stroke="#000" stroke-width="1" />
<line x1="266.50" y1="252.00" x2="266.50" y2="294.00" stroke="#000" stroke-width="1" />
<line x1="169.00" y1="252.50" x2="209.85" y2="252.50" stroke="#000" stroke-width="1" />
<line x1="218.00" y1="252.50" x2="220.00" y2="252.50" stroke="#000" stroke-width="1" />
<line x1="228.15" y1="252.50" x2="269.00" y2="252.50" stroke="#000" stroke-width="1" />
<line x1="169.00" y1="366.50" x2="209.85" y2="366.50" stroke="#000" stroke-width="1" />
<line x1="218.00" y1="366.50" x2="220.00" y2="366.50" stroke="#000" stroke-width="1" />
<line x1="228.15" y1="366.50" x2="269.00" y2="366.50" stroke="#000" stroke-width="1" />
<line x1="169.50" y1="252.00" x2="169.50" y2="272.65" stroke="#000" stroke-width="1" />
<line x1="169.50" y1="280.80" x2="169.50" y2="282.80" stroke="#000" stroke-width="1" />
<line x1="169.50" y1="290.95" x2="169.50" y2="328.05" stroke="#000" stroke-width="1" />
<line x1="169.50" y1="336.20" x2="169.50" y2="338.20" stroke="#000" stroke-width="1" />
<line x1="169.50" y1="346.35" x2="169.50" y2="367.00" stroke="#000" stroke-width="1" />
<line x1="268.50" y1="252.00" x2="268.50" y2="272.65" stroke="#000" stroke-width="1" />
<line x1="268.50" y1="280.80" x2="268.50" y2="282.80" stroke="#000" stroke-width="1" />
<line x1="268.50" y1="290.95" x2="268.50" y2="328.05" stroke="#000" stroke-width="1" />
<line x1="268.50" y1="336.20" x2="268.50" y2="338.20" stroke="#000" stroke-width="1" />
<line x1="268.50" y1="346.35" x2="268.50" y2="367.00" stroke="#000" stroke-width="1" />
<text x="218.2" y="262.7" font-family="Liberation Sans, sans-serif" font-size="10.6" fill="#000" text-anchor="middle" textLength="37.3" lengthAdjust="spacingAndGlyphs" stroke="#000" stroke-width="0.12" >=F3-K2</text>
<text x="218.2" y="275.8" font-family="Liberation Sans, sans-serif" font-size="7.3" fill="#000" text-anchor="middle" textLength="48.3" lengthAdjust="spacingAndGlyphs" stroke="#000" stroke-width="0.28" >LC7K12015M7</text>
<text x="173.1" y="289.3" font-family="Liberation Sans, sans-serif" font-size="7.5" fill="#000" stroke="#000" stroke-width="0.28" >In</text>
<text x="185.7" y="289.3" font-family="Liberation Sans, sans-serif" font-size="7.5" fill="#000" stroke="#000" stroke-width="0.28" >=</text>
<text x="194.1" y="289.0" font-family="Liberation Sans, sans-serif" font-size="7.5" fill="#000" textLength="12.5" lengthAdjust="spacingAndGlyphs" stroke="#000" stroke-width="0.28" >12A</text>
<text x="172.1" y="249.7" font-family="Liberation Sans, sans-serif" font-size="6.8" fill="#000" textLength="15.1" lengthAdjust="spacingAndGlyphs" stroke="#000" stroke-width="0.28" >07-10</text>
<line x1="277.00" y1="266.50" x2="375.00" y2="266.50" stroke="#000" stroke-width="1" />
<line x1="277.00" y1="280.50" x2="375.00" y2="280.50" stroke="#000" stroke-width="1" />
<line x1="277.00" y1="293.50" x2="375.00" y2="293.50" stroke="#000" stroke-width="1" />
<line x1="374.50" y1="252.00" x2="374.50" y2="294.00" stroke="#000" stroke-width="1" />
<line x1="277.00" y1="252.50" x2="317.85" y2="252.50" stroke="#000" stroke-width="1" />
<line x1="326.00" y1="252.50" x2="328.00" y2="252.50" stroke="#000" stroke-width="1" />
<line x1="336.15" y1="252.50" x2="377.00" y2="252.50" stroke="#000" stroke-width="1" />
<line x1="277.00" y1="366.50" x2="317.85" y2="366.50" stroke="#000" stroke-width="1" />
<line x1="326.00" y1="366.50" x2="328.00" y2="366.50" stroke="#000" stroke-width="1" />
<line x1="336.15" y1="366.50" x2="377.00" y2="366.50" stroke="#000" stroke-width="1" />
<line x1="277.50" y1="252.00" x2="277.50" y2="272.65" stroke="#000" stroke-width="1" />
<line x1="277.50" y1="280.80" x2="277.50" y2="282.80" stroke="#000" stroke-width="1" />
<line x1="277.50" y1="290.95" x2="277.50" y2="328.05" stroke="#000" stroke-width="1" />
<line x1="277.50" y1="336.20" x2="277.50" y2="338.20" stroke="#000" stroke-width="1" />
<line x1="277.50" y1="346.35" x2="277.50" y2="367.00" stroke="#000" stroke-width="1" />
<line x1="376.50" y1="252.00" x2="376.50" y2="272.65" stroke="#000" stroke-width="1" />
<line x1="376.50" y1="280.80" x2="376.50" y2="282.80" stroke="#000" stroke-width="1" />
<line x1="376.50" y1="290.95" x2="376.50" y2="328.05" stroke="#000" stroke-width="1" />
<line x1="376.50" y1="336.20" x2="376.50" y2="338.20" stroke="#000" stroke-width="1" />
<line x1="376.50" y1="346.35" x2="376.50" y2="367.00" stroke="#000" stroke-width="1" />
<text x="326.3" y="262.7" font-family="Liberation Sans, sans-serif" font-size="10.6" fill="#000" text-anchor="middle" textLength="37.3" lengthAdjust="spacingAndGlyphs" stroke="#000" stroke-width="0.12" >=F3-K3</text>
<text x="326.3" y="275.8" font-family="Liberation Sans, sans-serif" font-size="7.3" fill="#000" text-anchor="middle" textLength="48.3" lengthAdjust="spacingAndGlyphs" stroke="#000" stroke-width="0.28" >LC7K12105M7</text>
<text x="280.9" y="289.3" font-family="Liberation Sans, sans-serif" font-size="7.5" fill="#000" stroke="#000" stroke-width="0.28" >In</text>
<text x="293.5" y="289.3" font-family="Liberation Sans, sans-serif" font-size="7.5" fill="#000" stroke="#000" stroke-width="0.28" >=</text>
<text x="301.9" y="289.0" font-family="Liberation Sans, sans-serif" font-size="7.5" fill="#000" textLength="12.5" lengthAdjust="spacingAndGlyphs" stroke="#000" stroke-width="0.28" >12A</text>
<text x="279.9" y="249.7" font-family="Liberation Sans, sans-serif" font-size="6.8" fill="#000" textLength="11.5" lengthAdjust="spacingAndGlyphs" stroke="#000" stroke-width="0.28" >08-1</text>
<line x1="431.00" y1="266.50" x2="529.00" y2="266.50" stroke="#000" stroke-width="1" />
<line x1="431.00" y1="280.50" x2="529.00" y2="280.50" stroke="#000" stroke-width="1" />
<line x1="431.00" y1="293.50" x2="529.00" y2="293.50" stroke="#000" stroke-width="1" />
<line x1="528.50" y1="252.00" x2="528.50" y2="294.00" stroke="#000" stroke-width="1" />
<line x1="431.00" y1="252.50" x2="471.35" y2="252.50" stroke="#000" stroke-width="1" />
<line x1="479.50" y1="252.50" x2="481.50" y2="252.50" stroke="#000" stroke-width="1" />
<line x1="489.65" y1="252.50" x2="530.00" y2="252.50" stroke="#000" stroke-width="1" />
<line x1="431.00" y1="366.50" x2="471.35" y2="366.50" stroke="#000" stroke-width="1" />
<line x1="479.50" y1="366.50" x2="481.50" y2="366.50" stroke="#000" stroke-width="1" />
<line x1="489.65" y1="366.50" x2="530.00" y2="366.50" stroke="#000" stroke-width="1" />
<line x1="431.50" y1="252.00" x2="431.50" y2="272.65" stroke="#000" stroke-width="1" />
<line x1="431.50" y1="280.80" x2="431.50" y2="282.80" stroke="#000" stroke-width="1" />
<line x1="431.50" y1="290.95" x2="431.50" y2="328.05" stroke="#000" stroke-width="1" />
<line x1="431.50" y1="336.20" x2="431.50" y2="338.20" stroke="#000" stroke-width="1" />
<line x1="431.50" y1="346.35" x2="431.50" y2="367.00" stroke="#000" stroke-width="1" />
<line x1="529.50" y1="252.00" x2="529.50" y2="272.65" stroke="#000" stroke-width="1" />
<line x1="529.50" y1="280.80" x2="529.50" y2="282.80" stroke="#000" stroke-width="1" />
<line x1="529.50" y1="290.95" x2="529.50" y2="328.05" stroke="#000" stroke-width="1" />
<line x1="529.50" y1="336.20" x2="529.50" y2="338.20" stroke="#000" stroke-width="1" />
<line x1="529.50" y1="346.35" x2="529.50" y2="367.00" stroke="#000" stroke-width="1" />
<text x="480.2" y="262.7" font-family="Liberation Sans, sans-serif" font-size="10.6" fill="#000" text-anchor="middle" textLength="37.3" lengthAdjust="spacingAndGlyphs" stroke="#000" stroke-width="0.12" >=F4-K4</text>
<text x="480.2" y="275.8" font-family="Liberation Sans, sans-serif" font-size="7.3" fill="#000" text-anchor="middle" textLength="48.3" lengthAdjust="spacingAndGlyphs" stroke="#000" stroke-width="0.28" >LC7K12105M7</text>
<text x="435.0" y="289.3" font-family="Liberation Sans, sans-serif" font-size="7.5" fill="#000" stroke="#000" stroke-width="0.28" >In</text>
<text x="447.6" y="289.3" font-family="Liberation Sans, sans-serif" font-size="7.5" fill="#000" stroke="#000" stroke-width="0.28" >=</text>
<text x="456.0" y="289.0" font-family="Liberation Sans, sans-serif" font-size="7.5" fill="#000" textLength="12.5" lengthAdjust="spacingAndGlyphs" stroke="#000" stroke-width="0.28" >12A</text>
<text x="434.0" y="249.7" font-family="Liberation Sans, sans-serif" font-size="6.8" fill="#000" textLength="11.5" lengthAdjust="spacingAndGlyphs" stroke="#000" stroke-width="0.28" >08-2</text>
<line x1="538.00" y1="266.50" x2="636.00" y2="266.50" stroke="#000" stroke-width="1" />
<line x1="538.00" y1="280.50" x2="636.00" y2="280.50" stroke="#000" stroke-width="1" />
<line x1="538.00" y1="293.50" x2="636.00" y2="293.50" stroke="#000" stroke-width="1" />
<line x1="635.50" y1="252.00" x2="635.50" y2="294.00" stroke="#000" stroke-width="1" />
<line x1="538.00" y1="252.50" x2="578.85" y2="252.50" stroke="#000" stroke-width="1" />
<line x1="587.00" y1="252.50" x2="589.00" y2="252.50" stroke="#000" stroke-width="1" />
<line x1="597.15" y1="252.50" x2="638.00" y2="252.50" stroke="#000" stroke-width="1" />
<line x1="538.00" y1="366.50" x2="578.85" y2="366.50" stroke="#000" stroke-width="1" />
<line x1="587.00" y1="366.50" x2="589.00" y2="366.50" stroke="#000" stroke-width="1" />
<line x1="597.15" y1="366.50" x2="638.00" y2="366.50" stroke="#000" stroke-width="1" />
<line x1="538.50" y1="252.00" x2="538.50" y2="272.65" stroke="#000" stroke-width="1" />
<line x1="538.50" y1="280.80" x2="538.50" y2="282.80" stroke="#000" stroke-width="1" />
<line x1="538.50" y1="290.95" x2="538.50" y2="328.05" stroke="#000" stroke-width="1" />
<line x1="538.50" y1="336.20" x2="538.50" y2="338.20" stroke="#000" stroke-width="1" />
<line x1="538.50" y1="346.35" x2="538.50" y2="367.00" stroke="#000" stroke-width="1" />
<line x1="637.50" y1="252.00" x2="637.50" y2="272.65" stroke="#000" stroke-width="1" />
<line x1="637.50" y1="280.80" x2="637.50" y2="282.80" stroke="#000" stroke-width="1" />
<line x1="637.50" y1="290.95" x2="637.50" y2="328.05" stroke="#000" stroke-width="1" />
<line x1="637.50" y1="336.20" x2="637.50" y2="338.20" stroke="#000" stroke-width="1" />
<line x1="637.50" y1="346.35" x2="637.50" y2="367.00" stroke="#000" stroke-width="1" />
<text x="587.2" y="262.7" font-family="Liberation Sans, sans-serif" font-size="10.6" fill="#000" text-anchor="middle" textLength="37.3" lengthAdjust="spacingAndGlyphs" stroke="#000" stroke-width="0.12" >=F3-K5</text>
<text x="587.2" y="275.8" font-family="Liberation Sans, sans-serif" font-size="7.3" fill="#000" text-anchor="middle" textLength="48.3" lengthAdjust="spacingAndGlyphs" stroke="#000" stroke-width="0.28" >LC8K1201M7</text>
<text x="542.0" y="289.3" font-family="Liberation Sans, sans-serif" font-size="7.5" fill="#000" stroke="#000" stroke-width="0.28" >In</text>
<text x="554.6" y="289.3" font-family="Liberation Sans, sans-serif" font-size="7.5" fill="#000" stroke="#000" stroke-width="0.28" >=</text>
<text x="563.0" y="289.0" font-family="Liberation Sans, sans-serif" font-size="7.5" fill="#000" textLength="12.5" lengthAdjust="spacingAndGlyphs" stroke="#000" stroke-width="0.28" >12A</text>
<text x="541.0" y="249.7" font-family="Liberation Sans, sans-serif" font-size="6.8" fill="#000" textLength="25.5" lengthAdjust="spacingAndGlyphs" stroke="#000" stroke-width="0.28" >08-3/08-3</text>
<line x1="923.00" y1="113.50" x2="1093.00" y2="113.50" stroke="#000" stroke-width="1" />
<line x1="923.00" y1="129.50" x2="1093.00" y2="129.50" stroke="#000" stroke-width="1" />
<line x1="1092.50" y1="98.00" x2="1092.50" y2="130.00" stroke="#000" stroke-width="1" />
<line x1="923.00" y1="98.50" x2="943.45" y2="98.50" stroke="#000" stroke-width="1" />
<line x1="951.60" y1="98.50" x2="953.60" y2="98.50" stroke="#000" stroke-width="1" />
<line x1="961.75" y1="98.50" x2="998.85" y2="98.50" stroke="#000" stroke-width="1" />
<line x1="1007.00" y1="98.50" x2="1009.00" y2="98.50" stroke="#000" stroke-width="1" />
<line x1="1017.15" y1="98.50" x2="1054.25" y2="98.50" stroke="#000" stroke-width="1" />
<line x1="1062.40" y1="98.50" x2="1064.40" y2="98.50" stroke="#000" stroke-width="1" />
<line x1="1072.55" y1="98.50" x2="1093.00" y2="98.50" stroke="#000" stroke-width="1" />
<line x1="923.00" y1="236.50" x2="943.45" y2="236.50" stroke="#000" stroke-width="1" />
<line x1="951.60" y1="236.50" x2="953.60" y2="236.50" stroke="#000" stroke-width="1" />
<line x1="961.75" y1="236.50" x2="998.85" y2="236.50" stroke="#000" stroke-width="1" />
<line x1="1007.00" y1="236.50" x2="1009.00" y2="236.50" stroke="#000" stroke-width="1" />
<line x1="1017.15" y1="236.50" x2="1054.25" y2="236.50" stroke="#000" stroke-width="1" />
<line x1="1062.40" y1="236.50" x2="1064.40" y2="236.50" stroke="#000" stroke-width="1" />
<line x1="1072.55" y1="236.50" x2="1093.00" y2="236.50" stroke="#000" stroke-width="1" />
<line x1="923.50" y1="98.00" x2="923.50" y2="130.65" stroke="#000" stroke-width="1" />
<line x1="923.50" y1="138.80" x2="923.50" y2="140.80" stroke="#000" stroke-width="1" />
<line x1="923.50" y1="148.95" x2="923.50" y2="186.05" stroke="#000" stroke-width="1" />
<line x1="923.50" y1="194.20" x2="923.50" y2="196.20" stroke="#000" stroke-width="1" />
<line x1="923.50" y1="204.35" x2="923.50" y2="237.00" stroke="#000" stroke-width="1" />
<line x1="1092.50" y1="98.00" x2="1092.50" y2="130.65" stroke="#000" stroke-width="1" />
<line x1="1092.50" y1="138.80" x2="1092.50" y2="140.80" stroke="#000" stroke-width="1" />
<line x1="1092.50" y1="148.95" x2="1092.50" y2="186.05" stroke="#000" stroke-width="1" />
<line x1="1092.50" y1="194.20" x2="1092.50" y2="196.20" stroke="#000" stroke-width="1" />
<line x1="1092.50" y1="204.35" x2="1092.50" y2="237.00" stroke="#000" stroke-width="1" />
<text x="1008.0" y="110.3" font-family="Liberation Sans, sans-serif" font-size="11.5" fill="#000" text-anchor="middle" textLength="19.5" lengthAdjust="spacingAndGlyphs" stroke="#000" stroke-width="0.12" >-N1</text>
<text x="1008.5" y="124.3" font-family="Liberation Sans, sans-serif" font-size="7.5" fill="#000" text-anchor="middle" textLength="40.0" lengthAdjust="spacingAndGlyphs" stroke="#000" stroke-width="0.28" >1747-L40C</text>
<text x="926.5" y="95.0" font-family="Liberation Sans, sans-serif" font-size="6.8" fill="#000" textLength="52.0" lengthAdjust="spacingAndGlyphs" stroke="#000" stroke-width="0.28" >30/06-1/07-1/08-1</text>
<line x1="46.00" y1="395.50" x2="66.65" y2="395.50" stroke="#000" stroke-width="1" />
<line x1="74.80" y1="395.50" x2="76.80" y2="395.50" stroke="#000" stroke-width="1" />
<line x1="84.95" y1="395.50" x2="122.05" y2="395.50" stroke="#000" stroke-width="1" />
<line x1="130.20" y1="395.50" x2="132.20" y2="395.50" stroke="#000" stroke-width="1" />
<line x1="140.35" y1="395.50" x2="177.45" y2="395.50" stroke="#000" stroke-width="1" />
<line x1="185.60" y1="395.50" x2="187.60" y2="395.50" stroke="#000" stroke-width="1" />
<line x1="195.75" y1="395.50" x2="232.85" y2="395.50" stroke="#000" stroke-width="1" />
<line x1="241.00" y1="395.50" x2="243.00" y2="395.50" stroke="#000" stroke-width="1" />
<line x1="251.15" y1="395.50" x2="288.25" y2="395.50" stroke="#000" stroke-width="1" />
<line x1="296.40" y1="395.50" x2="298.40" y2="395.50" stroke="#000" stroke-width="1" />
<line x1="306.55" y1="395.50" x2="343.65" y2="395.50" stroke="#000" stroke-width="1" />
<line x1="351.80" y1="395.50" x2="353.80" y2="395.50" stroke="#000" stroke-width="1" />
<line x1="361.95" y1="395.50" x2="399.05" y2="395.50" stroke="#000" stroke-width="1" />
<line x1="407.20" y1="395.50" x2="409.20" y2="395.50" stroke="#000" stroke-width="1" />
<line x1="417.35" y1="395.50" x2="454.45" y2="395.50" stroke="#000" stroke-width="1" />
<line x1="462.60" y1="395.50" x2="464.60" y2="395.50" stroke="#000" stroke-width="1" />
<line x1="472.75" y1="395.50" x2="509.85" y2="395.50" stroke="#000" stroke-width="1" />
<line x1="518.00" y1="395.50" x2="520.00" y2="395.50" stroke="#000" stroke-width="1" />
<line x1="528.15" y1="395.50" x2="565.25" y2="395.50" stroke="#000" stroke-width="1" />
<line x1="573.40" y1="395.50" x2="575.40" y2="395.50" stroke="#000" stroke-width="1" />
<line x1="583.55" y1="395.50" x2="620.65" y2="395.50" stroke="#000" stroke-width="1" />
<line x1="628.80" y1="395.50" x2="630.80" y2="395.50" stroke="#000" stroke-width="1" />
<line x1="638.95" y1="395.50" x2="676.05" y2="395.50" stroke="#000" stroke-width="1" />
<line x1="684.20" y1="395.50" x2="686.20" y2="395.50" stroke="#000" stroke-width="1" />
<line x1="694.35" y1="395.50" x2="715.00" y2="395.50" stroke="#000" stroke-width="1" />
<line x1="46.00" y1="453.50" x2="66.65" y2="453.50" stroke="#000" stroke-width="1" />
<line x1="74.80" y1="453.50" x2="76.80" y2="453.50" stroke="#000" stroke-width="1" />
<line x1="84.95" y1="453.50" x2="122.05" y2="453.50" stroke="#000" stroke-width="1" />
<line x1="130.20" y1="453.50" x2="132.20" y2="453.50" stroke="#000" stroke-width="1" />
<line x1="140.35" y1="453.50" x2="177.45" y2="453.50" stroke="#000" stroke-width="1" />
<line x1="185.60" y1="453.50" x2="187.60" y2="453.50" stroke="#000" stroke-width="1" />
<line x1="195.75" y1="453.50" x2="232.85" y2="453.50" stroke="#000" stroke-width="1" />
<line x1="241.00" y1="453.50" x2="243.00" y2="453.50" stroke="#000" stroke-width="1" />
<line x1="251.15" y1="453.50" x2="288.25" y2="453.50" stroke="#000" stroke-width="1" />
<line x1="296.40" y1="453.50" x2="298.40" y2="453.50" stroke="#000" stroke-width="1" />
<line x1="306.55" y1="453.50" x2="343.65" y2="453.50" stroke="#000" stroke-width="1" />
<line x1="351.80" y1="453.50" x2="353.80" y2="453.50" stroke="#000" stroke-width="1" />
<line x1="361.95" y1="453.50" x2="399.05" y2="453.50" stroke="#000" stroke-width="1" />
<line x1="407.20" y1="453.50" x2="409.20" y2="453.50" stroke="#000" stroke-width="1" />
<line x1="417.35" y1="453.50" x2="454.45" y2="453.50" stroke="#000" stroke-width="1" />
<line x1="462.60" y1="453.50" x2="464.60" y2="453.50" stroke="#000" stroke-width="1" />
<line x1="472.75" y1="453.50" x2="509.85" y2="453.50" stroke="#000" stroke-width="1" />
<line x1="518.00" y1="453.50" x2="520.00" y2="453.50" stroke="#000" stroke-width="1" />
<line x1="528.15" y1="453.50" x2="565.25" y2="453.50" stroke="#000" stroke-width="1" />
<line x1="573.40" y1="453.50" x2="575.40" y2="453.50" stroke="#000" stroke-width="1" />
<line x1="583.55" y1="453.50" x2="620.65" y2="453.50" stroke="#000" stroke-width="1" />
<line x1="628.80" y1="453.50" x2="630.80" y2="453.50" stroke="#000" stroke-width="1" />
<line x1="638.95" y1="453.50" x2="676.05" y2="453.50" stroke="#000" stroke-width="1" />
<line x1="684.20" y1="453.50" x2="686.20" y2="453.50" stroke="#000" stroke-width="1" />
<line x1="694.35" y1="453.50" x2="715.00" y2="453.50" stroke="#000" stroke-width="1" />
<line x1="46.50" y1="395.00" x2="46.50" y2="415.35" stroke="#000" stroke-width="1" />
<line x1="46.50" y1="423.50" x2="46.50" y2="425.50" stroke="#000" stroke-width="1" />
<line x1="46.50" y1="433.65" x2="46.50" y2="454.00" stroke="#000" stroke-width="1" />
<line x1="714.50" y1="395.00" x2="714.50" y2="415.35" stroke="#000" stroke-width="1" />
<line x1="714.50" y1="423.50" x2="714.50" y2="425.50" stroke="#000" stroke-width="1" />
<line x1="714.50" y1="433.65" x2="714.50" y2="454.00" stroke="#000" stroke-width="1" />
<line x1="46.00" y1="402.50" x2="713.00" y2="402.50" stroke="#000" stroke-width="1" />
<line x1="712.50" y1="390.00" x2="712.50" y2="408.00" stroke="#000" stroke-width="1" />
<text x="413.0" y="431.5" font-family="Liberation Sans, sans-serif" font-size="24" fill="#000" textLength="35.5" lengthAdjust="spacingAndGlyphs" >-X1</text>
<line x1="751.00" y1="270.50" x2="796.45" y2="270.50" stroke="#000" stroke-width="1" />
<line x1="804.60" y1="270.50" x2="806.60" y2="270.50" stroke="#000" stroke-width="1" />
<line x1="814.75" y1="270.50" x2="851.85" y2="270.50" stroke="#000" stroke-width="1" />
<line x1="860.00" y1="270.50" x2="862.00" y2="270.50" stroke="#000" stroke-width="1" />
<line x1="870.15" y1="270.50" x2="907.25" y2="270.50" stroke="#000" stroke-width="1" />
<line x1="915.40" y1="270.50" x2="917.40" y2="270.50" stroke="#000" stroke-width="1" />
<line x1="925.55" y1="270.50" x2="962.65" y2="270.50" stroke="#000" stroke-width="1" />
<line x1="970.80" y1="270.50" x2="972.80" y2="270.50" stroke="#000" stroke-width="1" />
<line x1="980.95" y1="270.50" x2="1018.05" y2="270.50" stroke="#000" stroke-width="1" />
<line x1="1026.20" y1="270.50" x2="1028.20" y2="270.50" stroke="#000" stroke-width="1" />
<line x1="1036.35" y1="270.50" x2="1073.45" y2="270.50" stroke="#000" stroke-width="1" />
<line x1="1081.60" y1="270.50" x2="1083.60" y2="270.50" stroke="#000" stroke-width="1" />
<line x1="1091.75" y1="270.50" x2="1128.85" y2="270.50" stroke="#000" stroke-width="1" />
<line x1="1137.00" y1="270.50" x2="1139.00" y2="270.50" stroke="#000" stroke-width="1" />
<line x1="1147.15" y1="270.50" x2="1184.25" y2="270.50" stroke="#000" stroke-width="1" />
<line x1="1192.40" y1="270.50" x2="1194.40" y2="270.50" stroke="#000" stroke-width="1" />
<line x1="1202.55" y1="270.50" x2="1248.00" y2="270.50" stroke="#000" stroke-width="1" />
<line x1="751.00" y1="336.50" x2="796.45" y2="336.50" stroke="#000" stroke-width="1" />
<line x1="804.60" y1="336.50" x2="806.60" y2="336.50" stroke="#000" stroke-width="1" />
<line x1="814.75" y1="336.50" x2="851.85" y2="336.50" stroke="#000" stroke-width="1" />
<line x1="860.00" y1="336.50" x2="862.00" y2="336.50" stroke="#000" stroke-width="1" />
<line x1="870.15" y1="336.50" x2="907.25" y2="336.50" stroke="#000" stroke-width="1" />
<line x1="915.40" y1="336.50" x2="917.40" y2="336.50" stroke="#000" stroke-width="1" />
<line x1="925.55" y1="336.50" x2="962.65" y2="336.50" stroke="#000" stroke-width="1" />
<line x1="970.80" y1="336.50" x2="972.80" y2="336.50" stroke="#000" stroke-width="1" />
<line x1="980.95" y1="336.50" x2="1018.05" y2="336.50" stroke="#000" stroke-width="1" />
<line x1="1026.20" y1="336.50" x2="1028.20" y2="336.50" stroke="#000" stroke-width="1" />
<line x1="1036.35" y1="336.50" x2="1073.45" y2="336.50" stroke="#000" stroke-width="1" />
<line x1="1081.60" y1="336.50" x2="1083.60" y2="336.50" stroke="#000" stroke-width="1" />
<line x1="1091.75" y1="336.50" x2="1128.85" y2="336.50" stroke="#000" stroke-width="1" />
<line x1="1137.00" y1="336.50" x2="1139.00" y2="336.50" stroke="#000" stroke-width="1" />
<line x1="1147.15" y1="336.50" x2="1184.25" y2="336.50" stroke="#000" stroke-width="1" />
<line x1="1192.40" y1="336.50" x2="1194.40" y2="336.50" stroke="#000" stroke-width="1" />
<line x1="1202.55" y1="336.50" x2="1248.00" y2="336.50" stroke="#000" stroke-width="1" />
<line x1="751.50" y1="270.00" x2="751.50" y2="294.35" stroke="#000" stroke-width="1" />
<line x1="751.50" y1="302.50" x2="751.50" y2="304.50" stroke="#000" stroke-width="1" />
<line x1="751.50" y1="312.65" x2="751.50" y2="337.00" stroke="#000" stroke-width="1" />
<line x1="1247.50" y1="270.00" x2="1247.50" y2="294.35" stroke="#000" stroke-width="1" />
<line x1="1247.50" y1="302.50" x2="1247.50" y2="304.50" stroke="#000" stroke-width="1" />
<line x1="1247.50" y1="312.65" x2="1247.50" y2="337.00" stroke="#000" stroke-width="1" />
<line x1="751.00" y1="277.50" x2="1248.00" y2="277.50" stroke="#000" stroke-width="1" />
<text x="905.3" y="309.2" font-family="Liberation Sans, sans-serif" font-size="25" fill="#000" textLength="36.5" lengthAdjust="spacingAndGlyphs" >-X2</text>
<line x1="738.00" y1="390.50" x2="764.35" y2="390.50" stroke="#000" stroke-width="1" />
<line x1="772.50" y1="390.50" x2="774.50" y2="390.50" stroke="#000" stroke-width="1" />
<line x1="782.65" y1="390.50" x2="809.00" y2="390.50" stroke="#000" stroke-width="1" />
<line x1="738.00" y1="452.50" x2="764.35" y2="452.50" stroke="#000" stroke-width="1" />
<line x1="772.50" y1="452.50" x2="774.50" y2="452.50" stroke="#000" stroke-width="1" />
<line x1="782.65" y1="452.50" x2="809.00" y2="452.50" stroke="#000" stroke-width="1" />
<line x1="738.50" y1="390.00" x2="738.50" y2="412.35" stroke="#000" stroke-width="1" />
<line x1="738.50" y1="420.50" x2="738.50" y2="422.50" stroke="#000" stroke-width="1" />
<line x1="738.50" y1="430.65" x2="738.50" y2="453.00" stroke="#000" stroke-width="1" />
<line x1="808.50" y1="390.00" x2="808.50" y2="412.35" stroke="#000" stroke-width="1" />
<line x1="808.50" y1="420.50" x2="808.50" y2="422.50" stroke="#000" stroke-width="1" />
<line x1="808.50" y1="430.65" x2="808.50" y2="453.00" stroke="#000" stroke-width="1" />
<line x1="738.00" y1="398.50" x2="809.00" y2="398.50" stroke="#000" stroke-width="1" />
<text x="721.0" y="384.2" font-family="Liberation Sans, sans-serif" font-size="24" fill="#000" textLength="35.5" lengthAdjust="spacingAndGlyphs" >-X3</text>
<line x1="835.00" y1="386.50" x2="916.00" y2="386.50" stroke="#000" stroke-width="1" />
<line x1="835.00" y1="398.50" x2="916.00" y2="398.50" stroke="#000" stroke-width="1" />
<line x1="915.50" y1="375.00" x2="915.50" y2="399.00" stroke="#000" stroke-width="1" />
<line x1="835.00" y1="375.50" x2="866.35" y2="375.50" stroke="#000" stroke-width="1" />
<line x1="874.50" y1="375.50" x2="876.50" y2="375.50" stroke="#000" stroke-width="1" />
<line x1="884.65" y1="375.50" x2="916.00" y2="375.50" stroke="#000" stroke-width="1" />
<line x1="835.00" y1="456.50" x2="866.35" y2="456.50" stroke="#000" stroke-width="1" />
<line x1="874.50" y1="456.50" x2="876.50" y2="456.50" stroke="#000" stroke-width="1" />
<line x1="884.65" y1="456.50" x2="916.00" y2="456.50" stroke="#000" stroke-width="1" />
<line x1="835.50" y1="375.00" x2="835.50" y2="406.85" stroke="#000" stroke-width="1" />
<line x1="835.50" y1="415.00" x2="835.50" y2="417.00" stroke="#000" stroke-width="1" />
<line x1="835.50" y1="425.15" x2="835.50" y2="457.00" stroke="#000" stroke-width="1" />
<line x1="915.50" y1="375.00" x2="915.50" y2="406.85" stroke="#000" stroke-width="1" />
<line x1="915.50" y1="415.00" x2="915.50" y2="417.00" stroke="#000" stroke-width="1" />
<line x1="915.50" y1="425.15" x2="915.50" y2="457.00" stroke="#000" stroke-width="1" />
<text x="875.9" y="384.5" font-family="Liberation Sans, sans-serif" font-size="8.8" fill="#000" text-anchor="middle" textLength="13.9" lengthAdjust="spacingAndGlyphs" stroke="#000" stroke-width="0.12" >-S1</text>
<text x="875.9" y="394.9" font-family="Liberation Sans, sans-serif" font-size="6.4" fill="#000" text-anchor="middle" textLength="16.8" lengthAdjust="spacingAndGlyphs" stroke="#000" stroke-width="0.28" >01489</text>
<text x="837.6" y="405.8" font-family="Liberation Sans, sans-serif" font-size="6.3" fill="#000" textLength="22.1" lengthAdjust="spacingAndGlyphs" stroke="#000" stroke-width="0.28" >ON/OFF</text>
<text x="837.2" y="372.8" font-family="Liberation Sans, sans-serif" font-size="5.8" fill="#000" textLength="16.6" lengthAdjust="spacingAndGlyphs" stroke="#000" stroke-width="0.22" >30/06-5</text>
<line x1="919.00" y1="386.50" x2="1001.00" y2="386.50" stroke="#000" stroke-width="1" />
<line x1="919.00" y1="398.50" x2="1001.00" y2="398.50" stroke="#000" stroke-width="1" />
<line x1="1000.50" y1="375.00" x2="1000.50" y2="399.00" stroke="#000" stroke-width="1" />
<line x1="919.00" y1="375.50" x2="950.85" y2="375.50" stroke="#000" stroke-width="1" />
<line x1="959.00" y1="375.50" x2="961.00" y2="375.50" stroke="#000" stroke-width="1" />
<line x1="969.15" y1="375.50" x2="1001.00" y2="375.50" stroke="#000" stroke-width="1" />
<line x1="919.00" y1="456.50" x2="950.85" y2="456.50" stroke="#000" stroke-width="1" />
<line x1="959.00" y1="456.50" x2="961.00" y2="456.50" stroke="#000" stroke-width="1" />
<line x1="969.15" y1="456.50" x2="1001.00" y2="456.50" stroke="#000" stroke-width="1" />
<line x1="919.50" y1="375.00" x2="919.50" y2="406.85" stroke="#000" stroke-width="1" />
<line x1="919.50" y1="415.00" x2="919.50" y2="417.00" stroke="#000" stroke-width="1" />
<line x1="919.50" y1="425.15" x2="919.50" y2="457.00" stroke="#000" stroke-width="1" />
<line x1="1000.50" y1="375.00" x2="1000.50" y2="406.85" stroke="#000" stroke-width="1" />
<line x1="1000.50" y1="415.00" x2="1000.50" y2="417.00" stroke="#000" stroke-width="1" />
<line x1="1000.50" y1="425.15" x2="1000.50" y2="457.00" stroke="#000" stroke-width="1" />
<text x="960.1" y="384.5" font-family="Liberation Sans, sans-serif" font-size="8.8" fill="#000" text-anchor="middle" textLength="13.9" lengthAdjust="spacingAndGlyphs" stroke="#000" stroke-width="0.12" >-S4</text>
<text x="960.1" y="394.9" font-family="Liberation Sans, sans-serif" font-size="6.4" fill="#000" text-anchor="middle" textLength="16.8" lengthAdjust="spacingAndGlyphs" stroke="#000" stroke-width="0.28" >01489</text>
<text x="921.7" y="405.8" font-family="Liberation Sans, sans-serif" font-size="6.3" fill="#000" textLength="49.8" lengthAdjust="spacingAndGlyphs" stroke="#000" stroke-width="0.28" >Manual/Automatic</text>
<text x="921.3" y="372.8" font-family="Liberation Sans, sans-serif" font-size="5.8" fill="#000" textLength="16.6" lengthAdjust="spacingAndGlyphs" stroke="#000" stroke-width="0.22" >30/06-6</text>
<line x1="1004.00" y1="386.50" x2="1086.00" y2="386.50" stroke="#000" stroke-width="1" />
<line x1="1004.00" y1="398.50" x2="1086.00" y2="398.50" stroke="#000" stroke-width="1" />
<line x1="1085.50" y1="375.00" x2="1085.50" y2="399.00" stroke="#000" stroke-width="1" />
<line x1="1004.00" y1="375.50" x2="1035.85" y2="375.50" stroke="#000" stroke-width="1" />
<line x1="1044.00" y1="375.50" x2="1046.00" y2="375.50" stroke="#000" stroke-width="1" />
<line x1="1054.15" y1="375.50" x2="1086.00" y2="375.50" stroke="#000" stroke-width="1" />
<line x1="1004.00" y1="456.50" x2="1035.85" y2="456.50" stroke="#000" stroke-width="1" />
<line x1="1044.00" y1="456.50" x2="1046.00" y2="456.50" stroke="#000" stroke-width="1" />
<line x1="1054.15" y1="456.50" x2="1086.00" y2="456.50" stroke="#000" stroke-width="1" />
<line x1="1004.50" y1="375.00" x2="1004.50" y2="406.85" stroke="#000" stroke-width="1" />
<line x1="1004.50" y1="415.00" x2="1004.50" y2="417.00" stroke="#000" stroke-width="1" />
<line x1="1004.50" y1="425.15" x2="1004.50" y2="457.00" stroke="#000" stroke-width="1" />
<line x1="1085.50" y1="375.00" x2="1085.50" y2="406.85" stroke="#000" stroke-width="1" />
<line x1="1085.50" y1="415.00" x2="1085.50" y2="417.00" stroke="#000" stroke-width="1" />
<line x1="1085.50" y1="425.15" x2="1085.50" y2="457.00" stroke="#000" stroke-width="1" />
<text x="1045.2" y="384.5" font-family="Liberation Sans, sans-serif" font-size="8.8" fill="#000" text-anchor="middle" textLength="13.9" lengthAdjust="spacingAndGlyphs" stroke="#000" stroke-width="0.12" >-S7</text>
<text x="1045.2" y="394.9" font-family="Liberation Sans, sans-serif" font-size="6.4" fill="#000" text-anchor="middle" textLength="20.0" lengthAdjust="spacingAndGlyphs" stroke="#000" stroke-width="0.28" >001475</text>
<text x="1006.7" y="405.8" font-family="Liberation Sans, sans-serif" font-size="6.3" fill="#000" textLength="44.8" lengthAdjust="spacingAndGlyphs" stroke="#000" stroke-width="0.28" >Emergency stop</text>
<text x="1006.3" y="372.8" font-family="Liberation Sans, sans-serif" font-size="5.8" fill="#000" textLength="16.6" lengthAdjust="spacingAndGlyphs" stroke="#000" stroke-width="0.22" >30/06-6</text>
<line x1="1092.00" y1="386.50" x2="1174.00" y2="386.50" stroke="#000" stroke-width="1" />
<line x1="1092.00" y1="398.50" x2="1174.00" y2="398.50" stroke="#000" stroke-width="1" />
<line x1="1173.50" y1="375.00" x2="1173.50" y2="399.00" stroke="#000" stroke-width="1" />
<line x1="1092.00" y1="375.50" x2="1123.85" y2="375.50" stroke="#000" stroke-width="1" />
<line x1="1132.00" y1="375.50" x2="1134.00" y2="375.50" stroke="#000" stroke-width="1" />
<line x1="1142.15" y1="375.50" x2="1174.00" y2="375.50" stroke="#000" stroke-width="1" />
<line x1="1092.00" y1="456.50" x2="1123.85" y2="456.50" stroke="#000" stroke-width="1" />
<line x1="1132.00" y1="456.50" x2="1134.00" y2="456.50" stroke="#000" stroke-width="1" />
<line x1="1142.15" y1="456.50" x2="1174.00" y2="456.50" stroke="#000" stroke-width="1" />
<line x1="1092.50" y1="375.00" x2="1092.50" y2="406.85" stroke="#000" stroke-width="1" />
<line x1="1092.50" y1="415.00" x2="1092.50" y2="417.00" stroke="#000" stroke-width="1" />
<line x1="1092.50" y1="425.15" x2="1092.50" y2="457.00" stroke="#000" stroke-width="1" />
<line x1="1173.50" y1="375.00" x2="1173.50" y2="406.85" stroke="#000" stroke-width="1" />
<line x1="1173.50" y1="415.00" x2="1173.50" y2="417.00" stroke="#000" stroke-width="1" />
<line x1="1173.50" y1="425.15" x2="1173.50" y2="457.00" stroke="#000" stroke-width="1" />
<text x="1133.2" y="384.5" font-family="Liberation Sans, sans-serif" font-size="8.8" fill="#000" text-anchor="middle" textLength="13.9" lengthAdjust="spacingAndGlyphs" stroke="#000" stroke-width="0.12" >-H1</text>
<text x="1133.2" y="394.9" font-family="Liberation Sans, sans-serif" font-size="6.4" fill="#000" text-anchor="middle" textLength="32.5" lengthAdjust="spacingAndGlyphs" stroke="#000" stroke-width="0.28" >XB2BV3S06</text>
<text x="1094.6" y="405.8" font-family="Liberation Sans, sans-serif" font-size="6.3" fill="#000" textLength="40.0" lengthAdjust="spacingAndGlyphs" stroke="#000" stroke-width="0.28" >Under voltage</text>
<text x="1094.2" y="372.8" font-family="Liberation Sans, sans-serif" font-size="5.8" fill="#000" textLength="16.6" lengthAdjust="spacingAndGlyphs" stroke="#000" stroke-width="0.22" >30/07-9</text>
<line x1="89.00" y1="624.50" x2="191.00" y2="624.50" stroke="#000" stroke-width="1" />
<line x1="89.00" y1="633.50" x2="191.00" y2="633.50" stroke="#000" stroke-width="1" />
<line x1="89.00" y1="642.50" x2="191.00" y2="642.50" stroke="#000" stroke-width="1" />
<line x1="190.50" y1="615.00" x2="190.50" y2="643.00" stroke="#000" stroke-width="1" />
<line x1="140.50" y1="633.00" x2="140.50" y2="643.00" stroke="#000" stroke-width="1" />
<line x1="89.00" y1="615.50" x2="133.85" y2="615.50" stroke="#000" stroke-width="1" />
<line x1="142.00" y1="615.50" x2="144.00" y2="615.50" stroke="#000" stroke-width="1" />
<line x1="152.15" y1="615.50" x2="197.00" y2="615.50" stroke="#000" stroke-width="1" />
<line x1="89.00" y1="710.50" x2="133.85" y2="710.50" stroke="#000" stroke-width="1" />
<line x1="142.00" y1="710.50" x2="144.00" y2="710.50" stroke="#000" stroke-width="1" />
<line x1="152.15" y1="710.50" x2="197.00" y2="710.50" stroke="#000" stroke-width="1" />
<line x1="89.50" y1="615.00" x2="89.50" y2="653.85" stroke="#000" stroke-width="1" />
<line x1="89.50" y1="662.00" x2="89.50" y2="664.00" stroke="#000" stroke-width="1" />
<line x1="89.50" y1="672.15" x2="89.50" y2="711.00" stroke="#000" stroke-width="1" />
<line x1="196.50" y1="615.00" x2="196.50" y2="653.85" stroke="#000" stroke-width="1" />
<line x1="196.50" y1="662.00" x2="196.50" y2="664.00" stroke="#000" stroke-width="1" />
<line x1="196.50" y1="672.15" x2="196.50" y2="711.00" stroke="#000" stroke-width="1" />
<text x="140.0" y="622.3" font-family="Liberation Sans, sans-serif" font-size="8.6" fill="#000" text-anchor="middle" textLength="25.9" lengthAdjust="spacingAndGlyphs" stroke="#000" stroke-width="0.12" >=F2-M1</text>
<text x="140.0" y="630.2" font-family="Liberation Sans, sans-serif" font-size="5.3" fill="#000" text-anchor="middle" textLength="30.3" lengthAdjust="spacingAndGlyphs" stroke="#000" stroke-width="0.22" >LS100L-4P(3)</text>
<text x="92.0" y="640.0" font-family="Liberation Sans, sans-serif" font-size="5.3" fill="#000" textLength="25.1" lengthAdjust="spacingAndGlyphs" stroke="#000" stroke-width="0.22" >P =   3 kW</text>
<text x="146.9" y="640.0" font-family="Liberation Sans, sans-serif" font-size="5.3" fill="#000" textLength="25.3" lengthAdjust="spacingAndGlyphs" stroke="#000" stroke-width="0.22" >1437 tr/mn</text>
<text x="92.0" y="648.7" font-family="Liberation Sans, sans-serif" font-size="5.3" fill="#000" textLength="32.5" lengthAdjust="spacingAndGlyphs" stroke="#000" stroke-width="0.22" >Load conveyor</text>
<text x="91.0" y="612.9" font-family="Liberation Sans, sans-serif" font-size="4.8" fill="#000" textLength="13.8" lengthAdjust="spacingAndGlyphs" stroke="#000" stroke-width="0.22" >05-2/03</text>
<line x1="205.00" y1="624.50" x2="306.00" y2="624.50" stroke="#000" stroke-width="1" />
<line x1="205.00" y1="633.50" x2="306.00" y2="633.50" stroke="#000" stroke-width="1" />
<line x1="205.00" y1="642.50" x2="306.00" y2="642.50" stroke="#000" stroke-width="1" />
<line x1="305.50" y1="615.00" x2="305.50" y2="643.00" stroke="#000" stroke-width="1" />
<line x1="255.50" y1="633.00" x2="255.50" y2="643.00" stroke="#000" stroke-width="1" />
<line x1="205.00" y1="615.50" x2="249.35" y2="615.50" stroke="#000" stroke-width="1" />
<line x1="257.50" y1="615.50" x2="259.50" y2="615.50" stroke="#000" stroke-width="1" />
<line x1="267.65" y1="615.50" x2="312.00" y2="615.50" stroke="#000" stroke-width="1" />
<line x1="205.00" y1="710.50" x2="249.35" y2="710.50" stroke="#000" stroke-width="1" />
<line x1="257.50" y1="710.50" x2="259.50" y2="710.50" stroke="#000" stroke-width="1" />
<line x1="267.65" y1="710.50" x2="312.00" y2="710.50" stroke="#000" stroke-width="1" />
<line x1="205.50" y1="615.00" x2="205.50" y2="653.85" stroke="#000" stroke-width="1" />
<line x1="205.50" y1="662.00" x2="205.50" y2="664.00" stroke="#000" stroke-width="1" />
<line x1="205.50" y1="672.15" x2="205.50" y2="711.00" stroke="#000" stroke-width="1" />
<line x1="311.50" y1="615.00" x2="311.50" y2="653.85" stroke="#000" stroke-width="1" />
<line x1="311.50" y1="662.00" x2="311.50" y2="664.00" stroke="#000" stroke-width="1" />
<line x1="311.50" y1="672.15" x2="311.50" y2="711.00" stroke="#000" stroke-width="1" />
<text x="255.4" y="622.3" font-family="Liberation Sans, sans-serif" font-size="8.6" fill="#000" text-anchor="middle" textLength="25.9" lengthAdjust="spacingAndGlyphs" stroke="#000" stroke-width="0.12" >=F3-M2</text>
<text x="255.4" y="630.2" font-family="Liberation Sans, sans-serif" font-size="5.3" fill="#000" text-anchor="middle" textLength="30.3" lengthAdjust="spacingAndGlyphs" stroke="#000" stroke-width="0.22" >LS100L-4P(3)</text>
<text x="207.9" y="640.0" font-family="Liberation Sans, sans-serif" font-size="5.3" fill="#000" textLength="25.1" lengthAdjust="spacingAndGlyphs" stroke="#000" stroke-width="0.22" >P =   3 kW</text>
<text x="262.2" y="640.0" font-family="Liberation Sans, sans-serif" font-size="5.3" fill="#000" textLength="25.3" lengthAdjust="spacingAndGlyphs" stroke="#000" stroke-width="0.22" >1437 tr/mn</text>
<text x="207.9" y="648.7" font-family="Liberation Sans, sans-serif" font-size="5.3" fill="#000" textLength="36.6" lengthAdjust="spacingAndGlyphs" stroke="#000" stroke-width="0.22" >Central conveyor</text>
<text x="206.9" y="612.9" font-family="Liberation Sans, sans-serif" font-size="4.8" fill="#000" textLength="13.8" lengthAdjust="spacingAndGlyphs" stroke="#000" stroke-width="0.22" >05-4/03</text>
<line x1="319.00" y1="624.50" x2="421.00" y2="624.50" stroke="#000" stroke-width="1" />
<line x1="319.00" y1="633.50" x2="421.00" y2="633.50" stroke="#000" stroke-width="1" />
<line x1="319.00" y1="642.50" x2="421.00" y2="642.50" stroke="#000" stroke-width="1" />
<line x1="420.50" y1="615.00" x2="420.50" y2="643.00" stroke="#000" stroke-width="1" />
<line x1="369.50" y1="633.00" x2="369.50" y2="643.00" stroke="#000" stroke-width="1" />
<line x1="319.00" y1="615.50" x2="362.35" y2="615.50" stroke="#000" stroke-width="1" />
<line x1="370.50" y1="615.50" x2="372.50" y2="615.50" stroke="#000" stroke-width="1" />
<line x1="380.65" y1="615.50" x2="424.00" y2="615.50" stroke="#000" stroke-width="1" />
<line x1="319.00" y1="710.50" x2="362.35" y2="710.50" stroke="#000" stroke-width="1" />
<line x1="370.50" y1="710.50" x2="372.50" y2="710.50" stroke="#000" stroke-width="1" />
<line x1="380.65" y1="710.50" x2="424.00" y2="710.50" stroke="#000" stroke-width="1" />
<line x1="319.50" y1="615.00" x2="319.50" y2="653.85" stroke="#000" stroke-width="1" />
<line x1="319.50" y1="662.00" x2="319.50" y2="664.00" stroke="#000" stroke-width="1" />
<line x1="319.50" y1="672.15" x2="319.50" y2="711.00" stroke="#000" stroke-width="1" />
<line x1="423.50" y1="615.00" x2="423.50" y2="653.85" stroke="#000" stroke-width="1" />
<line x1="423.50" y1="662.00" x2="423.50" y2="664.00" stroke="#000" stroke-width="1" />
<line x1="423.50" y1="672.15" x2="423.50" y2="711.00" stroke="#000" stroke-width="1" />
<text x="369.7" y="622.3" font-family="Liberation Sans, sans-serif" font-size="8.6" fill="#000" text-anchor="middle" textLength="25.9" lengthAdjust="spacingAndGlyphs" stroke="#000" stroke-width="0.12" >=F3-M3</text>
<text x="369.7" y="630.2" font-family="Liberation Sans, sans-serif" font-size="5.3" fill="#000" text-anchor="middle" textLength="30.3" lengthAdjust="spacingAndGlyphs" stroke="#000" stroke-width="0.22" >LS100L-4P(3)</text>
<text x="321.7" y="640.0" font-family="Liberation Sans, sans-serif" font-size="5.3" fill="#000" textLength="25.1" lengthAdjust="spacingAndGlyphs" stroke="#000" stroke-width="0.22" >P =   3 kW</text>
<text x="376.2" y="640.0" font-family="Liberation Sans, sans-serif" font-size="5.3" fill="#000" textLength="25.3" lengthAdjust="spacingAndGlyphs" stroke="#000" stroke-width="0.22" >1437 tr/mn</text>
<text x="321.7" y="648.7" font-family="Liberation Sans, sans-serif" font-size="5.3" fill="#000" textLength="61.3" lengthAdjust="spacingAndGlyphs" stroke="#000" stroke-width="0.22" >Central conveyor (Rotating)</text>
<text x="320.7" y="612.9" font-family="Liberation Sans, sans-serif" font-size="4.8" fill="#000" textLength="13.8" lengthAdjust="spacingAndGlyphs" stroke="#000" stroke-width="0.22" >05-6/03</text>
<line x1="429.00" y1="624.50" x2="531.00" y2="624.50" stroke="#000" stroke-width="1" />
<line x1="429.00" y1="633.50" x2="531.00" y2="633.50" stroke="#000" stroke-width="1" />
<line x1="429.00" y1="642.50" x2="531.00" y2="642.50" stroke="#000" stroke-width="1" />
<line x1="530.50" y1="615.00" x2="530.50" y2="643.00" stroke="#000" stroke-width="1" />
<line x1="480.50" y1="633.00" x2="480.50" y2="643.00" stroke="#000" stroke-width="1" />
<line x1="429.00" y1="615.50" x2="472.85" y2="615.50" stroke="#000" stroke-width="1" />
<line x1="481.00" y1="615.50" x2="483.00" y2="615.50" stroke="#000" stroke-width="1" />
<line x1="491.15" y1="615.50" x2="535.00" y2="615.50" stroke="#000" stroke-width="1" />
<line x1="429.00" y1="710.50" x2="472.85" y2="710.50" stroke="#000" stroke-width="1" />
<line x1="481.00" y1="710.50" x2="483.00" y2="710.50" stroke="#000" stroke-width="1" />
<line x1="491.15" y1="710.50" x2="535.00" y2="710.50" stroke="#000" stroke-width="1" />
<line x1="429.50" y1="615.00" x2="429.50" y2="653.85" stroke="#000" stroke-width="1" />
<line x1="429.50" y1="662.00" x2="429.50" y2="664.00" stroke="#000" stroke-width="1" />
<line x1="429.50" y1="672.15" x2="429.50" y2="711.00" stroke="#000" stroke-width="1" />
<line x1="534.50" y1="615.00" x2="534.50" y2="653.85" stroke="#000" stroke-width="1" />
<line x1="534.50" y1="662.00" x2="534.50" y2="664.00" stroke="#000" stroke-width="1" />
<line x1="534.50" y1="672.15" x2="534.50" y2="711.00" stroke="#000" stroke-width="1" />
<text x="480.1" y="622.3" font-family="Liberation Sans, sans-serif" font-size="8.6" fill="#000" text-anchor="middle" textLength="25.9" lengthAdjust="spacingAndGlyphs" stroke="#000" stroke-width="0.12" >=F4-M4</text>
<text x="480.1" y="630.2" font-family="Liberation Sans, sans-serif" font-size="5.3" fill="#000" text-anchor="middle" textLength="30.3" lengthAdjust="spacingAndGlyphs" stroke="#000" stroke-width="0.22" >LS100L-4P(3)</text>
<text x="432.0" y="640.0" font-family="Liberation Sans, sans-serif" font-size="5.3" fill="#000" textLength="25.1" lengthAdjust="spacingAndGlyphs" stroke="#000" stroke-width="0.22" >P =   3 kW</text>
<text x="487.1" y="640.0" font-family="Liberation Sans, sans-serif" font-size="5.3" fill="#000" textLength="25.3" lengthAdjust="spacingAndGlyphs" stroke="#000" stroke-width="0.22" >1437 tr/mn</text>
<text x="432.0" y="648.7" font-family="Liberation Sans, sans-serif" font-size="5.3" fill="#000" textLength="36.6" lengthAdjust="spacingAndGlyphs" stroke="#000" stroke-width="0.22" >Unload conveyor</text>
<text x="431.0" y="612.9" font-family="Liberation Sans, sans-serif" font-size="4.8" fill="#000" textLength="13.8" lengthAdjust="spacingAndGlyphs" stroke="#000" stroke-width="0.22" >05-7/03</text>
<line x1="546.00" y1="624.50" x2="647.00" y2="624.50" stroke="#000" stroke-width="1" />
<line x1="546.00" y1="633.50" x2="647.00" y2="633.50" stroke="#000" stroke-width="1" />
<line x1="546.00" y1="642.50" x2="647.00" y2="642.50" stroke="#000" stroke-width="1" />
<line x1="646.50" y1="615.00" x2="646.50" y2="643.00" stroke="#000" stroke-width="1" />
<line x1="596.50" y1="633.00" x2="596.50" y2="643.00" stroke="#000" stroke-width="1" />
<line x1="546.00" y1="615.50" x2="589.85" y2="615.50" stroke="#000" stroke-width="1" />
<line x1="598.00" y1="615.50" x2="600.00" y2="615.50" stroke="#000" stroke-width="1" />
<line x1="608.15" y1="615.50" x2="652.00" y2="615.50" stroke="#000" stroke-width="1" />
<line x1="546.00" y1="710.50" x2="589.85" y2="710.50" stroke="#000" stroke-width="1" />
<line x1="598.00" y1="710.50" x2="600.00" y2="710.50" stroke="#000" stroke-width="1" />
<line x1="608.15" y1="710.50" x2="652.00" y2="710.50" stroke="#000" stroke-width="1" />
<line x1="546.50" y1="615.00" x2="546.50" y2="653.85" stroke="#000" stroke-width="1" />
<line x1="546.50" y1="662.00" x2="546.50" y2="664.00" stroke="#000" stroke-width="1" />
<line x1="546.50" y1="672.15" x2="546.50" y2="711.00" stroke="#000" stroke-width="1" />
<line x1="651.50" y1="615.00" x2="651.50" y2="653.85" stroke="#000" stroke-width="1" />
<line x1="651.50" y1="662.00" x2="651.50" y2="664.00" stroke="#000" stroke-width="1" />
<line x1="651.50" y1="672.15" x2="651.50" y2="711.00" stroke="#000" stroke-width="1" />
<text x="596.5" y="622.3" font-family="Liberation Sans, sans-serif" font-size="8.6" fill="#000" text-anchor="middle" textLength="25.9" lengthAdjust="spacingAndGlyphs" stroke="#000" stroke-width="0.12" >=F3-M5</text>
<text x="596.5" y="630.2" font-family="Liberation Sans, sans-serif" font-size="5.3" fill="#000" text-anchor="middle" textLength="34.3" lengthAdjust="spacingAndGlyphs" stroke="#000" stroke-width="0.22" >LS80L-2P(0.75)</text>
<text x="548.6" y="640.0" font-family="Liberation Sans, sans-serif" font-size="5.3" fill="#000" textLength="32.1" lengthAdjust="spacingAndGlyphs" stroke="#000" stroke-width="0.22" >P =   0.75 kW</text>
<text x="603.2" y="640.0" font-family="Liberation Sans, sans-serif" font-size="5.3" fill="#000" textLength="25.3" lengthAdjust="spacingAndGlyphs" stroke="#000" stroke-width="0.22" >2840 tr/mn</text>
<text x="548.6" y="648.7" font-family="Liberation Sans, sans-serif" font-size="5.3" fill="#000" textLength="18.8" lengthAdjust="spacingAndGlyphs" stroke="#000" stroke-width="0.22" >Wrapper</text>
<text x="547.6" y="612.9" font-family="Liberation Sans, sans-serif" font-size="4.8" fill="#000" textLength="13.8" lengthAdjust="spacingAndGlyphs" stroke="#000" stroke-width="0.22" >05-8/03</text>
<line x1="738.00" y1="638.50" x2="804.00" y2="638.50" stroke="#000" stroke-width="1" />
<line x1="738.00" y1="647.50" x2="804.00" y2="647.50" stroke="#000" stroke-width="1" />
<line x1="738.00" y1="656.50" x2="804.00" y2="656.50" stroke="#000" stroke-width="1" />
<line x1="803.50" y1="629.00" x2="803.50" y2="657.00" stroke="#000" stroke-width="1" />
<line x1="738.00" y1="629.50" x2="761.85" y2="629.50" stroke="#000" stroke-width="1" />
<line x1="770.00" y1="629.50" x2="772.00" y2="629.50" stroke="#000" stroke-width="1" />
<line x1="780.15" y1="629.50" x2="804.00" y2="629.50" stroke="#000" stroke-width="1" />
<line x1="738.00" y1="693.50" x2="761.85" y2="693.50" stroke="#000" stroke-width="1" />
<line x1="770.00" y1="693.50" x2="772.00" y2="693.50" stroke="#000" stroke-width="1" />
<line x1="780.15" y1="693.50" x2="804.00" y2="693.50" stroke="#000" stroke-width="1" />
<line x1="738.50" y1="629.00" x2="738.50" y2="652.35" stroke="#000" stroke-width="1" />
<line x1="738.50" y1="660.50" x2="738.50" y2="662.50" stroke="#000" stroke-width="1" />
<line x1="738.50" y1="670.65" x2="738.50" y2="694.00" stroke="#000" stroke-width="1" />
<line x1="803.50" y1="629.00" x2="803.50" y2="652.35" stroke="#000" stroke-width="1" />
<line x1="803.50" y1="660.50" x2="803.50" y2="662.50" stroke="#000" stroke-width="1" />
<line x1="803.50" y1="670.65" x2="803.50" y2="694.00" stroke="#000" stroke-width="1" />
<text x="771.2" y="636.5" font-family="Liberation Sans, sans-serif" font-size="7.9" fill="#000" text-anchor="middle" textLength="24.9" lengthAdjust="spacingAndGlyphs" stroke="#000" stroke-width="0.28" >=F2-B1</text>
<text x="771.2" y="645.0" font-family="Liberation Sans, sans-serif" font-size="5.1" fill="#000" text-anchor="middle" textLength="16.1" lengthAdjust="spacingAndGlyphs" stroke="#000" stroke-width="0.22" >030775</text>
<text x="740.9" y="654.4" font-family="Liberation Sans, sans-serif" font-size="5.3" fill="#000" textLength="19.6" lengthAdjust="spacingAndGlyphs" stroke="#000" stroke-width="0.22" >Range =</text>
<text x="741.0" y="622.9" font-family="Liberation Sans, sans-serif" font-size="4.6" fill="#000" textLength="13.3" lengthAdjust="spacingAndGlyphs" stroke="#000" stroke-width="0.22" >03/06-7</text>
<line x1="908.00" y1="640.50" x2="973.00" y2="640.50" stroke="#000" stroke-width="1" />
<line x1="908.00" y1="649.50" x2="973.00" y2="649.50" stroke="#000" stroke-width="1" />
<line x1="908.00" y1="658.50" x2="973.00" y2="658.50" stroke="#000" stroke-width="1" />
<line x1="972.50" y1="630.00" x2="972.50" y2="659.00" stroke="#000" stroke-width="1" />
<line x1="908.00" y1="630.50" x2="931.35" y2="630.50" stroke="#000" stroke-width="1" />
<line x1="939.50" y1="630.50" x2="941.50" y2="630.50" stroke="#000" stroke-width="1" />
<line x1="949.65" y1="630.50" x2="973.00" y2="630.50" stroke="#000" stroke-width="1" />
<line x1="908.00" y1="695.50" x2="931.35" y2="695.50" stroke="#000" stroke-width="1" />
<line x1="939.50" y1="695.50" x2="941.50" y2="695.50" stroke="#000" stroke-width="1" />
<line x1="949.65" y1="695.50" x2="973.00" y2="695.50" stroke="#000" stroke-width="1" />
<line x1="908.50" y1="630.00" x2="908.50" y2="653.85" stroke="#000" stroke-width="1" />
<line x1="908.50" y1="662.00" x2="908.50" y2="664.00" stroke="#000" stroke-width="1" />
<line x1="908.50" y1="672.15" x2="908.50" y2="696.00" stroke="#000" stroke-width="1" />
<line x1="972.50" y1="630.00" x2="972.50" y2="653.85" stroke="#000" stroke-width="1" />
<line x1="972.50" y1="662.00" x2="972.50" y2="664.00" stroke="#000" stroke-width="1" />
<line x1="972.50" y1="672.15" x2="972.50" y2="696.00" stroke="#000" stroke-width="1" />
<text x="940.7" y="637.5" font-family="Liberation Sans, sans-serif" font-size="7.9" fill="#000" text-anchor="middle" textLength="28.7" lengthAdjust="spacingAndGlyphs" stroke="#000" stroke-width="0.28" >=F4-B10</text>
<text x="940.7" y="646.7" font-family="Liberation Sans, sans-serif" font-size="5.1" fill="#000" text-anchor="middle" textLength="37.3" lengthAdjust="spacingAndGlyphs" stroke="#000" stroke-width="0.22" >3RG4012-3CD00</text>
<text x="910.9" y="656.4" font-family="Liberation Sans, sans-serif" font-size="5.3" fill="#000" textLength="19.6" lengthAdjust="spacingAndGlyphs" stroke="#000" stroke-width="0.22" >Range =</text>
<text x="910.2" y="628.3" font-family="Liberation Sans, sans-serif" font-size="4.6" fill="#000" textLength="12.7" lengthAdjust="spacingAndGlyphs" stroke="#000" stroke-width="0.22" >03/07-3</text>
<rect x="778.5" y="560.5" width="74" height="33" fill="#fff" stroke="#000" stroke-width="1"/>
<text x="815.9" y="576.1" font-family="Liberation Sans, sans-serif" font-size="13" fill="#2a1be0" text-anchor="middle" >W7</text>
<text x="815.9" y="582.6" font-family="Liberation Sans, sans-serif" font-size="5.6" fill="#2a1be0" text-anchor="middle" stroke="#2a1be0" stroke-width="0.22" >Prysmian</text>
<text x="815.9" y="588.4" font-family="Liberation Sans, sans-serif" font-size="5.6" fill="#2a1be0" text-anchor="middle" textLength="61.5" lengthAdjust="spacingAndGlyphs" stroke="#2a1be0" stroke-width="0.22" >1000 R2V-RH 2X1.5 C</text>
<line x1="765.20" y1="576.50" x2="778.00" y2="576.50" stroke="#2a1be0" stroke-width="1" />
<line x1="763.40" y1="570.50" x2="776.20" y2="583.80" stroke="#000" stroke-width="1" />
<rect x="963.5" y="560.5" width="74" height="33" fill="#fff" stroke="#000" stroke-width="1"/>
<text x="1000.8" y="576.4" font-family="Liberation Sans, sans-serif" font-size="13" fill="#2a1be0" text-anchor="middle" >W16</text>
<text x="1000.8" y="582.9" font-family="Liberation Sans, sans-serif" font-size="5.6" fill="#2a1be0" text-anchor="middle" stroke="#2a1be0" stroke-width="0.22" >Prysmian</text>
<text x="1000.8" y="588.7" font-family="Liberation Sans, sans-serif" font-size="5.6" fill="#2a1be0" text-anchor="middle" textLength="61.5" lengthAdjust="spacingAndGlyphs" stroke="#2a1be0" stroke-width="0.22" >1000 R2V-RH 2X1.5 C</text>
<line x1="939.70" y1="576.50" x2="963.00" y2="576.50" stroke="#2a1be0" stroke-width="1" />
<line x1="932.40" y1="570.50" x2="945.20" y2="583.80" stroke="#000" stroke-width="1" />
<text x="800.0" y="549.7" font-family="Liberation Sans, sans-serif" font-size="16" fill="#ff19f0" textLength="92.6" lengthAdjust="spacingAndGlyphs" >W7 =&gt; W16</text>
<text x="808.8" y="672.7" font-family="Liberation Sans, sans-serif" font-size="16" fill="#ff19f0" textLength="81.4" lengthAdjust="spacingAndGlyphs" >B1 =&gt; B10</text>
<text font-family="Liberation Sans, sans-serif" font-size="13" fill="#000" textLength="102.8" lengthAdjust="spacingAndGlyphs" transform="translate(119.9,601.9) rotate(-90)" stroke="#000" stroke-width="0.3">W1 (1000 R2V-RH</text>
<text font-family="Liberation Sans, sans-serif" font-size="13" fill="#000" textLength="33.6" lengthAdjust="spacingAndGlyphs" transform="translate(135.7,567.7) rotate(-90)" stroke="#000" stroke-width="0.3">4G10)</text>
<text font-family="Liberation Sans, sans-serif" font-size="13" fill="#000" textLength="103.5" lengthAdjust="spacingAndGlyphs" transform="translate(246.6,598.4) rotate(-90)" stroke="#000" stroke-width="0.3">W2 (1000 R2V-RH</text>
<text font-family="Liberation Sans, sans-serif" font-size="13" fill="#000" textLength="52.0" lengthAdjust="spacingAndGlyphs" transform="translate(262.9,572.7) rotate(-90)" stroke="#000" stroke-width="0.3">4G1.5 M)</text>
<text font-family="Liberation Sans, sans-serif" font-size="13" fill="#000" textLength="103.5" lengthAdjust="spacingAndGlyphs" transform="translate(346.9,606.2) rotate(-90)" stroke="#000" stroke-width="0.3">W3 (1000 R2V-RH</text>
<text font-family="Liberation Sans, sans-serif" font-size="13" fill="#000" textLength="52.1" lengthAdjust="spacingAndGlyphs" transform="translate(363.3,580.6) rotate(-90)" stroke="#000" stroke-width="0.3">4G1.5 M)</text>
<text font-family="Liberation Sans, sans-serif" font-size="13" fill="#000" textLength="102.8" lengthAdjust="spacingAndGlyphs" transform="translate(461.8,601.9) rotate(-90)" stroke="#000" stroke-width="0.3">W4 (1000 R2V-RH</text>
<text font-family="Liberation Sans, sans-serif" font-size="13" fill="#000" textLength="52.0" lengthAdjust="spacingAndGlyphs" transform="translate(477.9,577.0) rotate(-90)" stroke="#000" stroke-width="0.3">4G1.5 M)</text>
<text font-family="Liberation Sans, sans-serif" font-size="13" fill="#000" textLength="101.8" lengthAdjust="spacingAndGlyphs" transform="translate(573.3,589.8) rotate(-90)" stroke="#000" stroke-width="0.3">W5 (1000 R2V-RH</text>
<text font-family="Liberation Sans, sans-serif" font-size="13" fill="#000" textLength="51.3" lengthAdjust="spacingAndGlyphs" transform="translate(589.2,564.9) rotate(-90)" stroke="#000" stroke-width="0.3">4G1.5 M)</text>
<path d="M185.5,221.5 L185.5,236.5 L132.5,236.5 L132.5,252.5" fill="none" stroke="#e8281a" stroke-width="1"/>
<circle cx="185.5" cy="221.5" r="1.5" fill="#a01818"/>
<circle cx="132.5" cy="252.5" r="1.5" fill="#a01818"/>
<path d="M216.5,221.5 L216.5,252.5" fill="none" stroke="#e8281a" stroke-width="1"/>
<circle cx="216.5" cy="221.5" r="1.5" fill="#a01818"/>
<circle cx="216.5" cy="252.5" r="1.5" fill="#a01818"/>
<path d="M246.5,221.5 L246.5,236.5 L326.5,236.5 L326.5,252.5" fill="none" stroke="#e8281a" stroke-width="1"/>
<circle cx="246.5" cy="221.5" r="1.5" fill="#a01818"/>
<circle cx="326.5" cy="252.5" r="1.5" fill="#a01818"/>
<path d="M492.5,221.5 L492.5,252.5" fill="none" stroke="#e8281a" stroke-width="1"/>
<circle cx="492.5" cy="221.5" r="1.5" fill="#a01818"/>
<circle cx="492.5" cy="252.5" r="1.5" fill="#a01818"/>
<path d="M585.5,221.5 L585.5,252.5" fill="none" stroke="#e8281a" stroke-width="1"/>
<circle cx="585.5" cy="221.5" r="1.5" fill="#a01818"/>
<circle cx="585.5" cy="252.5" r="1.5" fill="#a01818"/>
<path d="M600.5,156.5 L923.5,156.5" fill="none" stroke="#e8281a" stroke-width="1"/>
<circle cx="600.5" cy="156.5" r="1.5" fill="#a01818"/>
<circle cx="923.5" cy="156.5" r="1.5" fill="#a01818"/>
<path d="M1000.5,236.5 L1000.5,270.5" fill="none" stroke="#e8281a" stroke-width="1"/>
<circle cx="1000.5" cy="236.5" r="1.5" fill="#a01818"/>
<circle cx="1000.5" cy="270.5" r="1.5" fill="#a01818"/>
<path d="M117.5,366.5 L117.5,395.5" fill="none" stroke="#e8281a" stroke-width="1"/>
<circle cx="117.5" cy="366.5" r="1.5" fill="#a01818"/>
<circle cx="117.5" cy="395.5" r="1.5" fill="#a01818"/>
<path d="M219.5,366.5 L219.5,395.5" fill="none" stroke="#e8281a" stroke-width="1"/>
<circle cx="219.5" cy="366.5" r="1.5" fill="#a01818"/>
<circle cx="219.5" cy="395.5" r="1.5" fill="#a01818"/>
<path d="M332.5,366.5 L332.5,395.5" fill="none" stroke="#e8281a" stroke-width="1"/>
<circle cx="332.5" cy="366.5" r="1.5" fill="#a01818"/>
<circle cx="332.5" cy="395.5" r="1.5" fill="#a01818"/>
<path d="M486.5,366.5 L486.5,395.5" fill="none" stroke="#e8281a" stroke-width="1"/>
<circle cx="486.5" cy="366.5" r="1.5" fill="#a01818"/>
<circle cx="486.5" cy="395.5" r="1.5" fill="#a01818"/>
<path d="M591.5,366.5 L591.5,395.5" fill="none" stroke="#e8281a" stroke-width="1"/>
<circle cx="591.5" cy="366.5" r="1.5" fill="#a01818"/>
<circle cx="591.5" cy="395.5" r="1.5" fill="#a01818"/>
<path d="M769.5,336.5 L769.5,390.5" fill="none" stroke="#e8281a" stroke-width="1"/>
<circle cx="769.5" cy="336.5" r="1.5" fill="#a01818"/>
<circle cx="769.5" cy="390.5" r="1.5" fill="#a01818"/>
<path d="M873.5,336.5 L873.5,375.5" fill="none" stroke="#e8281a" stroke-width="1"/>
<circle cx="873.5" cy="336.5" r="1.5" fill="#a01818"/>
<circle cx="873.5" cy="375.5" r="1.5" fill="#a01818"/>
<path d="M954.5,336.5 L954.5,375.5" fill="none" stroke="#e8281a" stroke-width="1"/>
<circle cx="954.5" cy="336.5" r="1.5" fill="#a01818"/>
<circle cx="954.5" cy="375.5" r="1.5" fill="#a01818"/>
<path d="M1042.5,336.5 L1042.5,375.5" fill="none" stroke="#e8281a" stroke-width="1"/>
<circle cx="1042.5" cy="336.5" r="1.5" fill="#a01818"/>
<circle cx="1042.5" cy="375.5" r="1.5" fill="#a01818"/>
<path d="M1131.5,336.5 L1131.5,375.5" fill="none" stroke="#e8281a" stroke-width="1"/>
<circle cx="1131.5" cy="336.5" r="1.5" fill="#a01818"/>
<circle cx="1131.5" cy="375.5" r="1.5" fill="#a01818"/>
<path d="M139.5,453.5 L139.5,615.5" fill="none" stroke="#e8281a" stroke-width="1"/>
<circle cx="139.5" cy="453.5" r="1.5" fill="#a01818"/>
<circle cx="139.5" cy="615.5" r="1.5" fill="#a01818"/>
<path d="M265.5,453.5 L265.5,615.5" fill="none" stroke="#e8281a" stroke-width="1"/>
<circle cx="265.5" cy="453.5" r="1.5" fill="#a01818"/>
<circle cx="265.5" cy="615.5" r="1.5" fill="#a01818"/>
<path d="M369.5,453.5 L369.5,615.5" fill="none" stroke="#e8281a" stroke-width="1"/>
<circle cx="369.5" cy="453.5" r="1.5" fill="#a01818"/>
<circle cx="369.5" cy="615.5" r="1.5" fill="#a01818"/>
<path d="M481.5,453.5 L481.5,615.5" fill="none" stroke="#e8281a" stroke-width="1"/>
<circle cx="481.5" cy="453.5" r="1.5" fill="#a01818"/>
<circle cx="481.5" cy="615.5" r="1.5" fill="#a01818"/>
<path d="M592.5,453.5 L592.5,615.5" fill="none" stroke="#e8281a" stroke-width="1"/>
<circle cx="592.5" cy="453.5" r="1.5" fill="#a01818"/>
<circle cx="592.5" cy="615.5" r="1.5" fill="#a01818"/>
<path d="M769.5,452.5 L769.5,629.5" fill="none" stroke="#e8281a" stroke-width="1"/>
<circle cx="769.5" cy="452.5" r="1.5" fill="#a01818"/>
<circle cx="769.5" cy="629.5" r="1.5" fill="#a01818"/>
<path d="M785.5,452.5 L785.5,513.5 L938.5,513.5 L938.5,630.5" fill="none" stroke="#e8281a" stroke-width="1"/>
<circle cx="785.5" cy="452.5" r="1.5" fill="#a01818"/>
<circle cx="938.5" cy="630.5" r="1.5" fill="#a01818"/>
<rect x="30" y="30" width="3" height="854" fill="#000"/>
<rect x="30" y="30" width="1233" height="2" fill="#000"/>
<rect x="1261" y="30" width="2" height="854" fill="#000"/>
<rect x="30" y="882" width="1233" height="2" fill="#000"/>
<rect x="30" y="789.6" width="1233" height="2" fill="#000"/>
<path d="M34.2,664.3 L39.6,667.4 L34.2,670.6" fill="none" stroke="#000" stroke-width="0.8"/>
<path d="M1260.6,664.2 L1254,667.7 L1260.6,671.3" fill="none" stroke="#000" stroke-width="0.8"/>
<line x1="404.50" y1="790.00" x2="404.50" y2="883.00" stroke="#000" stroke-width="1" />
<line x1="33.00" y1="859.50" x2="832.00" y2="859.50" stroke="#000" stroke-width="1" />
<line x1="831.50" y1="790.00" x2="831.50" y2="883.00" stroke="#000" stroke-width="1" />
<line x1="831.00" y1="806.50" x2="1201.00" y2="806.50" stroke="#000" stroke-width="1" />
<line x1="831.00" y1="821.50" x2="1201.00" y2="821.50" stroke="#000" stroke-width="1" />
<line x1="831.00" y1="836.50" x2="1201.00" y2="836.50" stroke="#000" stroke-width="1" />
<line x1="831.00" y1="852.50" x2="1201.00" y2="852.50" stroke="#000" stroke-width="1" />
<line x1="862.50" y1="790.00" x2="862.50" y2="853.00" stroke="#000" stroke-width="1" />
<line x1="930.50" y1="790.00" x2="930.50" y2="853.00" stroke="#000" stroke-width="1" />
<line x1="1007.50" y1="790.00" x2="1007.50" y2="853.00" stroke="#000" stroke-width="1" />
<line x1="1047.50" y1="852.00" x2="1047.50" y2="883.00" stroke="#000" stroke-width="1" />
<line x1="1200.50" y1="790.00" x2="1200.50" y2="883.00" stroke="#000" stroke-width="1" />
<line x1="1207.00" y1="836.50" x2="1254.00" y2="836.50" stroke="#000" stroke-width="1" />
<text x="235.5" y="809.8" font-family="Liberation Sans, sans-serif" font-size="16.5" fill="#000" text-anchor="middle" textLength="94.2" lengthAdjust="spacingAndGlyphs" >ELECWORKS</text>
<text x="235.5" y="839.0" font-family="Liberation Sans, sans-serif" font-size="12.5" fill="#000" text-anchor="middle" textLength="204.6" lengthAdjust="spacingAndGlyphs" stroke="#000" stroke-width="0.12" >TRACE SOFTWARE INTERNATIONAL</text>
<text x="235.0" y="851.4" font-family="Liberation Sans, sans-serif" font-size="12.5" fill="#000" text-anchor="middle" textLength="114.6" lengthAdjust="spacingAndGlyphs" stroke="#000" stroke-width="0.12" >www.elecworks.com</text>
<text x="39.0" y="875.1" font-family="Liberation Sans, sans-serif" font-size="11.5" fill="#000" textLength="74.7" lengthAdjust="spacingAndGlyphs" stroke="#000" stroke-width="0.12" >CONTRACT N° :</text>
<text x="117.6" y="875.3" font-family="Liberation Serif, sans-serif" font-size="15" fill="#000" textLength="62.7" lengthAdjust="spacingAndGlyphs" >00000001</text>
<text x="618.5" y="814.7" font-family="Liberation Sans, sans-serif" font-size="20.5" fill="#000" text-anchor="middle" textLength="146.1" lengthAdjust="spacingAndGlyphs" >Document book</text>
<text x="406.9" y="867.9" font-family="Liberation Sans, sans-serif" font-size="8" fill="#000" textLength="42.6" lengthAdjust="spacingAndGlyphs" stroke="#000" stroke-width="0.12" >LOCATION:</text>
<text x="476.0" y="875.8" font-family="Liberation Sans, sans-serif" font-size="14" fill="#000" textLength="14.3" lengthAdjust="spacingAndGlyphs" >L1</text>
<text x="775.3" y="875.8" font-family="Liberation Sans, sans-serif" font-size="14" fill="#000" textLength="47.8" lengthAdjust="spacingAndGlyphs" >Cabinet</text>
<text x="844.9" y="834.0" font-family="Liberation Sans, sans-serif" font-size="10.5" fill="#000" text-anchor="middle" stroke="#000" stroke-width="0.12" >0</text>
<text x="865.9" y="834.0" font-family="Liberation Sans, sans-serif" font-size="10.5" fill="#000" textLength="52.5" lengthAdjust="spacingAndGlyphs" stroke="#000" stroke-width="0.12" >27/04/2010</text>
<text x="932.0" y="834.0" font-family="Liberation Sans, sans-serif" font-size="10.5" fill="#000" textLength="61.9" lengthAdjust="spacingAndGlyphs" stroke="#000" stroke-width="0.12" >Administrator</text>
<text x="835.5" y="848.1" font-family="Liberation Sans, sans-serif" font-size="10.5" fill="#000" textLength="22.3" lengthAdjust="spacingAndGlyphs" stroke="#000" stroke-width="0.12" >REV.</text>
<text x="883.3" y="848.1" font-family="Liberation Sans, sans-serif" font-size="10.5" fill="#000" textLength="25.2" lengthAdjust="spacingAndGlyphs" stroke="#000" stroke-width="0.12" >DATE</text>
<text x="953.6" y="848.1" font-family="Liberation Sans, sans-serif" font-size="10.5" fill="#000" textLength="26.2" lengthAdjust="spacingAndGlyphs" stroke="#000" stroke-width="0.12" >NAME</text>
<text x="1054.8" y="848.1" font-family="Liberation Sans, sans-serif" font-size="10.5" fill="#000" textLength="46.1" lengthAdjust="spacingAndGlyphs" stroke="#000" stroke-width="0.12" >CHANGES</text>
<text x="834.3" y="863.4" font-family="Liberation Sans, sans-serif" font-size="8.5" fill="#000" textLength="35.1" lengthAdjust="spacingAndGlyphs" stroke="#000" stroke-width="0.12" >Drawn by</text>
<text x="837.2" y="875.8" font-family="Liberation Sans, sans-serif" font-size="10.5" fill="#000" textLength="34.7" lengthAdjust="spacingAndGlyphs" stroke="#000" stroke-width="0.12" >Mr. Fan</text>
<text x="1050.1" y="864.0" font-family="Liberation Sans, sans-serif" font-size="8.5" fill="#000" textLength="50.3" lengthAdjust="spacingAndGlyphs" stroke="#000" stroke-width="0.12" >Drawing date</text>
<text x="1052.7" y="875.6" font-family="Liberation Sans, sans-serif" font-size="10.5" fill="#000" textLength="52.8" lengthAdjust="spacingAndGlyphs" stroke="#000" stroke-width="0.12" >2010.04.30</text>
<text x="1231.0" y="801.0" font-family="Liberation Sans, sans-serif" font-size="10.5" fill="#000" text-anchor="middle" textLength="47.0" lengthAdjust="spacingAndGlyphs" stroke="#000" stroke-width="0.12" >REVISION</text>
<text x="1229.0" y="823.2" font-family="Liberation Serif, sans-serif" font-size="17.5" fill="#000" text-anchor="middle" >0</text>
<text x="1231.0" y="847.3" font-family="Liberation Sans, sans-serif" font-size="10.5" fill="#000" text-anchor="middle" textLength="39.5" lengthAdjust="spacingAndGlyphs" stroke="#000" stroke-width="0.12" >SCHEME</text>
<text x="1229.5" y="868.8" font-family="Liberation Serif, sans-serif" font-size="17.5" fill="#000" text-anchor="middle" textLength="18.6" lengthAdjust="spacingAndGlyphs" >04</text>
<text x="31.5" y="892.7" font-family="Liberation Sans, sans-serif" font-size="6.4" fill="#000" textLength="121.2" lengthAdjust="spacingAndGlyphs" stroke="#000" stroke-width="0.28" >Document realized with elecworks version :</text>
<text x="159.8" y="892.7" font-family="Liberation Sans, sans-serif" font-size="6.6" fill="#000" textLength="40.9" lengthAdjust="spacingAndGlyphs" stroke="#000" stroke-width="0.28" font-style="italic">2012.0.0</text>
<rect x="994.7" y="722" width="266.3" height="67.6" fill="#fff"/>
<text x="996.3" y="765.7" font-family="Liberation Sans, sans-serif" font-size="50" font-weight="bold" fill="#78c62c" textLength="117.5" lengthAdjust="spacingAndGlyphs">elec</text>
<text x="1112.5" y="765.7" font-family="Liberation Sans, sans-serif" font-size="50" fill="#454545" textLength="129.5" lengthAdjust="spacingAndGlyphs">works</text>
<text x="1241.2" y="743.8" font-family="Liberation Sans, sans-serif" font-size="12.5" fill="#454545" textLength="16.5" lengthAdjust="spacingAndGlyphs">TM</text>
<text x="1116.3" y="778.5" font-family="Liberation Sans, sans-serif" font-size="11.5" fill="#454545" textLength="141.5" lengthAdjust="spacingAndGlyphs">electrical CAD for the world</text>
<path d="M23.4,821.2 C25.5,828 27.2,836 26.7,845 C26.2,858 23,873 17.6,883.1 C15.5,886 12.5,886 10.7,883.1 C7,876 4.5,862 4.1,845.8 C5.5,856 8.5,868 13.9,871.6 C19,870 22.5,857 23.8,839.6 C24.2,832 24,826 23.4,821.2 Z" fill="#ee2c1a"/>
<text transform="translate(19.1,858.8) rotate(-90)" font-family="Liberation Sans, sans-serif" font-size="14" fill="#0a0a1e" stroke="#0a0a1e" stroke-width="0.3" textLength="31.6" lengthAdjust="spacingAndGlyphs">trace</text>
<text transform="translate(19.3,814.9) rotate(-90)" font-family="Liberation Sans, sans-serif" font-size="14" fill="#0a0a1e" stroke="#0a0a1e" stroke-width="0.3" textLength="51.2" lengthAdjust="spacingAndGlyphs">Software</text>
<text transform="translate(27.6,815.4) rotate(-90)" font-family="Liberation Sans, sans-serif" font-size="5.8" font-weight="bold" fill="#0a0a1e" textLength="50.4" lengthAdjust="spacingAndGlyphs">www.elecworks.com</text>

</svg>
</body></html>
